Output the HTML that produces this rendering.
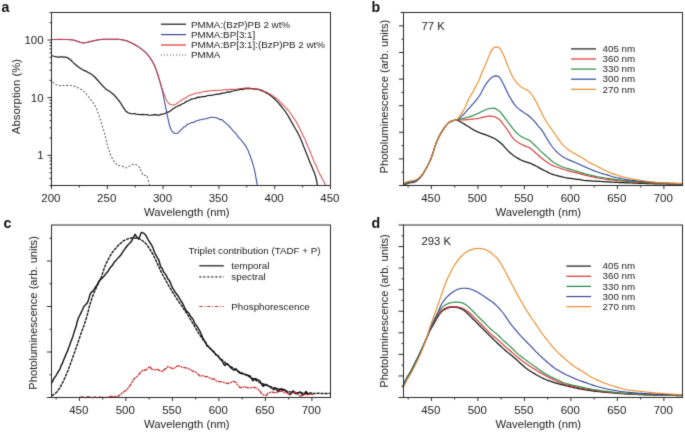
<!DOCTYPE html>
<html><head><meta charset="utf-8"><title>Figure</title>
<style>html,body{margin:0;padding:0;background:#fff;width:685px;height:432px;overflow:hidden}svg{display:block}text{font-family:"Liberation Sans",sans-serif}</style>
</head><body>
<svg width="685" height="432" viewBox="0 0 685 432" font-family="Liberation Sans, sans-serif"><defs><filter id="soft" filterUnits="userSpaceOnUse" x="0" y="0" width="685" height="432" color-interpolation-filters="sRGB"><feConvolveMatrix order="3" kernelMatrix="0.0144 0.0912 0.0144 0.0912 0.5776 0.0912 0.0144 0.0912 0.0144" edgeMode="duplicate"/></filter></defs><g filter="url(#soft)"><rect x="0" y="0" width="685" height="432" fill="#fff"/><path d="M51.50,55.54 L53.04,56.03 L55.00,56.47 L56.64,56.83 L58.30,57.03 L60.13,56.91 L62.00,56.88 L63.77,57.07 L65.60,57.14 L67.61,57.79 L69.70,59.12 L71.09,60.24 L72.50,61.84 L73.90,63.19 L75.30,64.48 L76.71,65.53 L78.10,66.73 L79.42,67.74 L80.73,68.53 L82.20,69.46 L83.96,70.34 L85.89,71.11 L87.80,72.26 L89.21,73.03 L90.64,73.81 L92.02,74.65 L93.30,75.79 L94.80,77.02 L96.15,78.48 L97.50,79.99 L98.90,81.53 L100.31,83.22 L101.70,84.67 L103.07,86.27 L104.43,87.61 L105.80,89.00 L107.19,90.01 L108.60,90.68 L110.00,91.61 L111.40,92.67 L112.81,93.95 L114.20,95.08 L115.66,96.76 L117.11,98.47 L118.30,100.00 L120.00,102.07 L120.93,103.51 L122.01,105.33 L123.10,107.02 L124.11,108.64 L125.12,110.15 L126.25,111.55 L128.13,112.75 L130.40,113.64 L132.34,113.76 L134.53,113.60 L136.70,114.25 L138.77,114.47 L140.83,114.55 L142.90,114.45 L145.00,114.76 L147.10,114.63 L149.20,115.23 L151.27,115.12 L153.33,114.92 L155.40,114.69 L157.50,115.15 L159.60,115.08 L161.70,114.11 L163.25,114.24 L164.80,113.51 L166.35,112.76 L167.90,112.16 L169.45,111.58 L171.00,110.57 L172.57,108.85 L174.20,108.18 L175.51,107.01 L176.80,106.76 L178.15,105.76 L179.61,105.39 L181.25,104.64 L182.57,103.64 L183.99,103.26 L185.50,102.03 L187.05,101.11 L188.63,100.74 L190.19,99.67 L191.70,99.19 L193.42,98.75 L195.14,98.38 L196.85,97.61 L198.56,97.12 L200.27,97.32 L202.00,96.57 L203.74,96.68 L205.49,96.34 L207.24,95.71 L208.99,95.52 L210.75,95.30 L212.50,95.10 L214.25,94.76 L216.01,94.43 L217.76,94.16 L219.51,94.06 L221.26,93.44 L223.00,93.05 L224.73,92.91 L226.44,92.23 L228.15,91.92 L229.86,92.03 L231.58,91.36 L233.30,91.03 L235.07,90.30 L236.89,90.21 L238.71,89.96 L240.49,89.22 L242.19,89.33 L243.75,89.09 L245.72,88.40 L247.38,88.57 L249.07,88.37 L251.10,88.54 L252.49,88.61 L254.00,88.87 L255.59,89.10 L257.25,89.22 L258.92,89.61 L260.58,90.24 L262.20,90.91 L263.59,91.35 L264.97,92.08 L266.36,92.86 L267.75,93.62 L269.14,94.53 L270.52,95.51 L271.91,96.60 L273.30,97.82 L274.42,98.77 L275.56,99.90 L276.72,101.17 L277.87,102.22 L279.02,103.64 L280.15,104.99 L281.27,106.23 L282.35,107.56 L283.40,109.04 L284.40,110.24 L285.36,111.56 L286.28,113.00 L287.17,114.46 L288.03,115.73 L288.86,117.21 L289.68,118.63 L290.48,120.17 L291.26,121.47 L292.03,122.95 L292.80,124.12 L293.74,125.78 L294.66,127.43 L295.55,129.02 L296.42,130.44 L297.27,131.91 L298.10,133.42 L298.91,135.09 L299.70,136.63 L300.38,138.26 L301.03,139.78 L301.67,141.16 L302.28,142.73 L302.89,144.43 L303.49,145.96 L304.09,147.56 L304.69,149.02 L305.30,150.51 L305.93,152.12 L306.57,153.85 L307.21,155.35 L307.86,157.00 L308.49,158.62 L309.11,160.18 L309.71,161.68 L310.27,163.21 L310.80,164.32 L311.67,166.33 L312.45,168.31 L313.16,169.88 L313.81,171.40 L314.40,172.78 L315.06,174.83 L315.62,176.68 L316.09,178.28 L316.50,180.06 L316.92,182.24 L317.21,184.18 L317.40,185.50" fill="none" stroke="#181818" stroke-width="1.2" stroke-linejoin="round" stroke-linecap="round" />
<path d="M51.50,39.57 L52.62,39.53 L54.18,39.50 L56.03,39.42 L58.02,39.37 L60.00,39.39 L61.72,39.45 L63.60,39.45 L65.54,39.47 L67.46,39.46 L69.24,39.58 L70.80,39.68 L73.20,40.07 L75.10,40.60 L77.00,41.17 L78.56,41.72 L80.12,42.26 L81.69,42.71 L83.30,42.93 L84.96,42.76 L86.67,42.42 L88.36,42.02 L90.00,41.62 L92.01,41.15 L93.95,40.66 L96.00,40.16 L97.61,39.95 L99.25,39.74 L101.02,39.54 L103.00,39.37 L104.53,39.34 L106.22,39.27 L108.00,39.34 L109.78,39.33 L111.47,39.30 L113.00,39.28 L114.98,39.32 L116.73,39.26 L118.37,39.32 L120.00,39.43 L121.62,39.63 L123.17,39.93 L124.71,40.34 L126.25,40.79 L127.81,41.33 L129.38,41.99 L130.94,42.76 L132.50,43.45 L134.06,44.26 L135.62,45.18 L137.19,46.07 L138.75,47.10 L140.34,48.18 L141.94,49.32 L143.51,50.62 L145.00,51.87 L146.12,53.02 L147.20,54.20 L148.24,55.49 L149.24,56.74 L150.20,58.09 L151.12,59.50 L152.00,60.87 L152.85,62.36 L153.65,63.90 L154.40,65.36 L155.10,66.94 L155.73,68.59 L156.33,70.32 L156.92,72.02 L157.50,73.72 L157.99,75.23 L158.47,76.74 L158.95,78.33 L159.41,79.86 L159.87,81.48 L160.30,83.04 L160.80,84.84 L161.27,86.57 L161.72,88.35 L162.16,90.06 L162.60,91.98 L162.96,93.72 L163.32,95.43 L163.67,97.18 L164.01,99.03 L164.36,100.77 L164.70,102.53 L165.04,104.19 L165.38,105.90 L165.72,107.62 L166.05,109.26 L166.38,110.91 L166.70,112.55 L167.07,114.31 L167.44,116.05 L167.80,117.77 L168.15,119.42 L168.50,121.03 L168.93,122.81 L169.34,124.51 L169.76,126.06 L170.20,127.55 L171.13,129.77 L172.20,131.47 L173.57,132.77 L175.00,133.56 L177.50,133.27 L178.57,132.46 L180.00,130.96 L181.12,129.45 L182.46,128.57 L183.92,126.96 L185.40,126.50 L186.86,124.61 L188.37,124.11 L189.96,123.53 L191.70,122.41 L193.26,122.44 L194.97,121.45 L196.73,120.78 L198.44,120.53 L200.00,119.74 L201.71,119.59 L203.25,118.90 L204.74,119.07 L206.25,118.63 L208.40,117.92 L210.55,117.22 L212.50,117.35 L214.77,117.49 L217.00,118.01 L218.39,118.47 L219.89,119.64 L221.45,119.58 L223.00,120.35 L224.23,122.06 L225.47,122.65 L226.71,124.13 L227.96,124.69 L229.20,126.40 L230.44,127.48 L231.68,129.06 L232.91,130.52 L234.15,131.80 L235.40,132.89 L236.46,134.23 L237.53,136.10 L238.61,137.34 L239.68,138.58 L240.71,139.21 L241.70,140.76 L242.83,142.32 L243.91,143.55 L244.94,145.13 L245.94,146.35 L246.90,148.15 L247.56,149.53 L248.20,150.55 L248.83,152.72 L249.43,154.31 L250.01,155.39 L250.57,157.03 L251.10,158.55 L251.69,160.25 L252.26,161.91 L252.79,163.71 L253.30,165.34 L253.77,167.12 L254.20,168.77 L254.59,170.39 L254.95,172.11 L255.27,173.84 L255.56,175.48 L255.84,177.06 L256.10,178.54 L256.48,180.58 L256.82,182.56 L257.10,184.35 L257.30,185.45" fill="none" stroke="#34479a" stroke-width="1.05" stroke-linejoin="round" stroke-linecap="round" />
<path d="M51.50,39.61 L52.62,39.59 L54.18,39.54 L56.03,39.50 L58.02,39.44 L60.00,39.44 L61.72,39.36 L63.60,39.42 L65.54,39.49 L67.46,39.51 L69.24,39.61 L70.80,39.66 L73.20,40.10 L75.10,40.62 L77.00,41.20 L78.56,41.69 L80.12,42.18 L81.69,42.65 L83.30,42.88 L84.96,42.83 L86.67,42.47 L88.36,41.97 L90.00,41.63 L92.01,41.08 L93.95,40.64 L96.00,40.16 L97.61,39.89 L99.25,39.76 L101.02,39.51 L103.00,39.37 L104.53,39.39 L106.22,39.34 L108.00,39.27 L109.78,39.34 L111.47,39.30 L113.00,39.32 L114.98,39.25 L116.73,39.30 L118.37,39.30 L120.00,39.45 L121.62,39.67 L123.17,39.92 L124.71,40.31 L126.25,40.77 L127.81,41.33 L129.38,41.97 L130.94,42.71 L132.50,43.51 L134.06,44.26 L135.62,45.19 L137.19,46.08 L138.75,47.08 L140.34,48.21 L141.94,49.34 L143.51,50.56 L145.00,51.90 L146.12,53.05 L147.20,54.18 L148.24,55.52 L149.24,56.72 L150.20,58.12 L151.12,59.51 L152.00,60.84 L152.85,62.38 L153.65,63.84 L154.40,65.41 L155.10,66.95 L155.75,68.62 L156.36,70.33 L156.94,72.11 L157.50,73.72 L158.04,75.45 L158.53,77.14 L159.01,78.81 L159.50,80.42 L160.00,82.09 L160.53,83.78 L161.07,85.50 L161.61,87.12 L162.16,88.83 L162.70,90.43 L163.37,92.38 L164.04,94.20 L164.71,96.09 L165.40,97.66 L166.32,99.69 L167.26,101.49 L168.30,102.94 L170.12,104.32 L172.10,105.04 L174.18,104.80 L176.25,103.89 L178.05,102.69 L180.00,101.11 L181.64,99.96 L183.47,98.84 L185.40,98.01 L186.82,97.35 L188.24,95.99 L189.82,95.10 L191.70,94.89 L193.18,94.15 L194.83,93.61 L196.59,93.08 L198.40,92.89 L200.23,92.65 L202.00,92.07 L203.74,91.73 L205.49,91.23 L207.24,91.48 L208.99,90.72 L210.75,90.78 L212.50,90.80 L214.25,90.23 L216.01,90.48 L217.76,90.53 L219.51,90.26 L221.26,90.27 L223.00,89.76 L224.73,89.84 L226.44,89.54 L228.15,89.83 L229.86,89.36 L231.58,89.31 L233.30,89.50 L235.06,89.26 L236.85,89.16 L238.65,88.67 L240.42,88.52 L242.13,88.53 L243.75,88.29 L245.51,88.10 L247.11,88.12 L248.67,87.96 L250.26,88.17 L252.00,88.69 L253.58,88.86 L255.22,88.86 L256.92,89.04 L258.66,89.28 L260.43,89.58 L262.20,90.26 L263.74,91.16 L265.31,91.88 L266.89,92.32 L268.50,93.40 L270.10,94.30 L271.71,95.24 L273.30,96.30 L274.54,97.26 L275.79,97.99 L277.05,99.22 L278.30,100.04 L279.56,101.29 L280.80,102.62 L282.02,103.76 L283.22,104.74 L284.40,106.37 L285.56,107.46 L286.72,108.75 L287.87,109.78 L289.00,111.51 L290.11,112.75 L291.20,114.44 L292.24,115.75 L293.25,117.39 L294.20,118.69 L295.20,120.32 L296.13,121.57 L297.00,123.25 L297.83,124.82 L298.64,126.40 L299.44,127.69 L300.26,129.81 L301.10,131.54 L301.80,132.75 L302.50,134.57 L303.21,136.08 L303.92,137.11 L304.63,138.70 L305.33,139.85 L306.03,142.23 L306.70,143.91 L307.36,144.89 L308.00,146.63 L308.68,148.28 L309.33,149.89 L309.96,150.80 L310.58,153.09 L311.18,154.39 L311.78,156.02 L312.38,157.24 L312.98,158.97 L313.60,160.63 L314.31,162.12 L315.04,163.89 L315.77,164.71 L316.49,166.49 L317.21,168.41 L317.91,170.18 L318.57,171.11 L319.20,173.02 L320.14,174.95 L321.03,176.06 L321.86,178.23 L322.62,179.43 L323.30,180.56 L324.29,182.58 L325.07,184.28 L325.60,185.12" fill="none" stroke="#d93030" stroke-width="1.05" stroke-linejoin="round" stroke-linecap="round" stroke-opacity="0.85"/>
<path d="M52.90,82.50 C53.42,82.85 54.82,84.08 56.00,84.60 C57.18,85.12 58.33,85.47 60.00,85.60 C61.67,85.73 64.00,85.40 66.00,85.40 C68.00,85.40 70.23,85.30 72.00,85.60 C73.77,85.90 75.27,86.63 76.60,87.20 C77.93,87.77 78.83,88.33 80.00,89.00 C81.17,89.67 82.23,89.97 83.60,91.20 C84.97,92.43 86.77,94.67 88.20,96.40 C89.63,98.13 90.95,99.87 92.20,101.60 C93.45,103.33 94.82,105.17 95.70,106.80 C96.58,108.43 96.90,109.80 97.50,111.40 C98.10,113.00 98.72,114.70 99.30,116.40 C99.88,118.10 100.43,119.77 101.00,121.60 C101.57,123.43 102.12,125.48 102.70,127.40 C103.28,129.32 104.02,131.37 104.50,133.10 C104.98,134.83 105.22,136.25 105.60,137.80 C105.98,139.35 106.42,140.87 106.80,142.40 C107.18,143.93 107.48,145.57 107.90,147.00 C108.32,148.43 108.82,149.60 109.30,151.00 C109.78,152.40 110.17,153.90 110.80,155.40 C111.43,156.90 112.33,158.75 113.10,160.00 C113.87,161.25 114.63,162.03 115.40,162.90 C116.17,163.77 116.53,164.65 117.70,165.20 C118.87,165.75 120.95,165.77 122.40,166.20 C123.85,166.63 125.25,167.80 126.40,167.80 C127.55,167.80 128.23,166.77 129.30,166.20 C130.37,165.63 131.73,164.70 132.80,164.40 C133.87,164.10 134.73,164.07 135.70,164.40 C136.67,164.73 137.83,165.58 138.60,166.40 C139.37,167.22 139.82,168.43 140.30,169.30 C140.78,170.17 141.02,170.60 141.50,171.60 C141.98,172.60 142.63,174.68 143.20,175.30 C143.77,175.92 144.32,175.20 144.90,175.30 C145.48,175.40 146.22,175.35 146.70,175.90 C147.18,176.45 147.42,177.42 147.80,178.60 C148.18,179.78 148.72,182.02 149.00,183.00 C149.28,183.98 149.42,184.25 149.50,184.50" fill="none" stroke="#555" stroke-width="1.05" stroke-linejoin="round" stroke-linecap="round" stroke-dasharray="1.05 2.6" stroke-linecap="butt"/>
<rect x="51.5" y="12.5" width="279.0" height="173.0" fill="none" stroke="#2a2a2a" stroke-width="1"/>
<line x1="51.5" y1="185.5" x2="51.5" y2="189.0" stroke="#2a2a2a" stroke-width="1" />
<text x="50.9" y="202.2" font-size="11.5" text-anchor="middle" fill="#222" font-weight="normal" >200</text>
<line x1="79.4" y1="185.5" x2="79.4" y2="187.5" stroke="#2a2a2a" stroke-width="1" />
<line x1="107.3" y1="185.5" x2="107.3" y2="189.0" stroke="#2a2a2a" stroke-width="1" />
<text x="106.7" y="202.2" font-size="11.5" text-anchor="middle" fill="#222" font-weight="normal" >250</text>
<line x1="135.2" y1="185.5" x2="135.2" y2="187.5" stroke="#2a2a2a" stroke-width="1" />
<line x1="163.1" y1="185.5" x2="163.1" y2="189.0" stroke="#2a2a2a" stroke-width="1" />
<text x="162.5" y="202.2" font-size="11.5" text-anchor="middle" fill="#222" font-weight="normal" >300</text>
<line x1="191.0" y1="185.5" x2="191.0" y2="187.5" stroke="#2a2a2a" stroke-width="1" />
<line x1="218.9" y1="185.5" x2="218.9" y2="189.0" stroke="#2a2a2a" stroke-width="1" />
<text x="218.3" y="202.2" font-size="11.5" text-anchor="middle" fill="#222" font-weight="normal" >350</text>
<line x1="246.8" y1="185.5" x2="246.8" y2="187.5" stroke="#2a2a2a" stroke-width="1" />
<line x1="274.7" y1="185.5" x2="274.7" y2="189.0" stroke="#2a2a2a" stroke-width="1" />
<text x="274.09999999999997" y="202.2" font-size="11.5" text-anchor="middle" fill="#222" font-weight="normal" >400</text>
<line x1="302.6" y1="185.5" x2="302.6" y2="187.5" stroke="#2a2a2a" stroke-width="1" />
<line x1="330.5" y1="185.5" x2="330.5" y2="189.0" stroke="#2a2a2a" stroke-width="1" />
<text x="329.9" y="202.2" font-size="11.5" text-anchor="middle" fill="#222" font-weight="normal" >450</text>
<line x1="49.5" y1="185.5" x2="51.5" y2="185.5" stroke="#2a2a2a" stroke-width="1" />
<line x1="49.5" y1="178.2951995222547" x2="51.5" y2="178.2951995222547" stroke="#2a2a2a" stroke-width="1" />
<line x1="49.5" y1="172.70672210545678" x2="51.5" y2="172.70672210545678" stroke="#2a2a2a" stroke-width="1" />
<line x1="49.5" y1="168.14060358337707" x2="51.5" y2="168.14060358337707" stroke="#2a2a2a" stroke-width="1" />
<line x1="49.5" y1="164.28000538134506" x2="51.5" y2="164.28000538134506" stroke="#2a2a2a" stroke-width="1" />
<line x1="49.5" y1="160.93580310563178" x2="51.5" y2="160.93580310563178" stroke="#2a2a2a" stroke-width="1" />
<line x1="49.5" y1="157.98600764449947" x2="51.5" y2="157.98600764449947" stroke="#2a2a2a" stroke-width="1" />
<line x1="47.5" y1="155.34732568883385" x2="51.5" y2="155.34732568883385" stroke="#2a2a2a" stroke-width="1" />
<line x1="49.5" y1="137.98792927221095" x2="51.5" y2="137.98792927221095" stroke="#2a2a2a" stroke-width="1" />
<line x1="49.5" y1="127.83333333333334" x2="51.5" y2="127.83333333333334" stroke="#2a2a2a" stroke-width="1" />
<line x1="49.5" y1="120.62853285558803" x2="51.5" y2="120.62853285558803" stroke="#2a2a2a" stroke-width="1" />
<line x1="49.5" y1="115.0400554387901" x2="51.5" y2="115.0400554387901" stroke="#2a2a2a" stroke-width="1" />
<line x1="49.5" y1="110.47393691671041" x2="51.5" y2="110.47393691671041" stroke="#2a2a2a" stroke-width="1" />
<line x1="49.5" y1="106.61333871467839" x2="51.5" y2="106.61333871467839" stroke="#2a2a2a" stroke-width="1" />
<line x1="49.5" y1="103.26913643896512" x2="51.5" y2="103.26913643896512" stroke="#2a2a2a" stroke-width="1" />
<line x1="49.5" y1="100.3193409778328" x2="51.5" y2="100.3193409778328" stroke="#2a2a2a" stroke-width="1" />
<line x1="47.5" y1="97.6806590221672" x2="51.5" y2="97.6806590221672" stroke="#2a2a2a" stroke-width="1" />
<line x1="49.5" y1="80.32126260554428" x2="51.5" y2="80.32126260554428" stroke="#2a2a2a" stroke-width="1" />
<line x1="49.5" y1="70.16666666666667" x2="51.5" y2="70.16666666666667" stroke="#2a2a2a" stroke-width="1" />
<line x1="49.5" y1="62.96186618892136" x2="51.5" y2="62.96186618892136" stroke="#2a2a2a" stroke-width="1" />
<line x1="49.5" y1="57.37338877212346" x2="51.5" y2="57.37338877212346" stroke="#2a2a2a" stroke-width="1" />
<line x1="49.5" y1="52.80727025004376" x2="51.5" y2="52.80727025004376" stroke="#2a2a2a" stroke-width="1" />
<line x1="49.5" y1="48.94667204801172" x2="51.5" y2="48.94667204801172" stroke="#2a2a2a" stroke-width="1" />
<line x1="49.5" y1="45.60246977229846" x2="51.5" y2="45.60246977229846" stroke="#2a2a2a" stroke-width="1" />
<line x1="49.5" y1="42.65267431116612" x2="51.5" y2="42.65267431116612" stroke="#2a2a2a" stroke-width="1" />
<line x1="47.5" y1="40.01399235550056" x2="51.5" y2="40.01399235550056" stroke="#2a2a2a" stroke-width="1" />
<line x1="49.5" y1="22.654595938877634" x2="51.5" y2="22.654595938877634" stroke="#2a2a2a" stroke-width="1" />
<line x1="49.5" y1="12.5" x2="51.5" y2="12.5" stroke="#2a2a2a" stroke-width="1" />
<text x="43.6" y="159.44732568883384" font-size="11.5" text-anchor="end" fill="#222" font-weight="normal" >1</text>
<text x="43.6" y="101.7806590221672" font-size="11.5" text-anchor="end" fill="#222" font-weight="normal" >10</text>
<text x="43.6" y="44.113992355500564" font-size="11.5" text-anchor="end" fill="#222" font-weight="normal" >100</text>
<text x="20" y="96.5" font-size="11.4" text-anchor="middle" fill="#222" font-weight="normal" transform="rotate(-90 20 96.5)">Absorption (%)</text>
<text x="144" y="216" font-size="11.3" text-anchor="start" fill="#222" font-weight="normal" >Wavelength (nm)</text>
<text x="1.5" y="12" font-size="14.2" text-anchor="start" fill="#111" font-weight="bold" >a</text>
<line x1="161" y1="24.2" x2="186" y2="24.2" stroke="#181818" stroke-width="1.2" />
<text x="191" y="27.599999999999998" font-size="9.8" text-anchor="start" fill="#222" font-weight="normal" >PMMA:(BzP)PB 2 wt%</text>
<line x1="161" y1="34.6" x2="186" y2="34.6" stroke="#34479a" stroke-width="1.2" />
<text x="191" y="38.0" font-size="9.8" text-anchor="start" fill="#222" font-weight="normal" >PMMA:BP[3:1]</text>
<line x1="161" y1="45.0" x2="186" y2="45.0" stroke="#d93030" stroke-width="1.2" />
<text x="191" y="48.4" font-size="9.8" text-anchor="start" fill="#222" font-weight="normal" >PMMA:BP[3:1]:(BzP)PB 2 wt%</text>
<line x1="161" y1="55.0" x2="186" y2="55.0" stroke="#555" stroke-width="1.2" stroke-dasharray="1 2"/>
<text x="191" y="58.4" font-size="9.8" text-anchor="start" fill="#222" font-weight="normal" >PMMA</text>
<path d="M403.50,185.50 L404.97,184.69 L406.35,184.01 L407.89,183.39 L409.39,182.96 L410.89,182.70 L412.37,182.54 L413.83,182.25 L415.23,181.68 L416.59,180.86 L417.89,179.88 L419.03,178.84 L420.09,177.70 L421.14,176.44 L422.12,175.13 L422.99,173.85 L423.80,172.55 L424.61,171.19 L425.39,169.81 L426.15,168.44 L426.90,167.07 L427.64,165.69 L428.35,164.31 L429.03,162.93 L429.69,161.54 L430.32,160.11 L430.94,158.64 L431.52,157.16 L432.07,155.68 L432.59,154.19 L433.08,152.67 L433.54,151.13 L433.97,149.61 L434.42,148.13 L434.91,146.62 L435.47,145.09 L436.04,143.61 L436.62,142.16 L437.21,140.69 L437.82,139.22 L438.46,137.78 L439.15,136.36 L439.88,134.99 L440.66,133.64 L441.47,132.30 L442.32,130.92 L443.22,129.54 L444.11,128.22 L445.00,126.95 L445.90,125.74 L446.88,124.56 L448.01,123.38 L449.29,122.30 L450.69,121.45 L452.18,120.84 L453.65,120.39 L455.11,120.13 L456.57,120.20 L457.96,120.61 L459.34,121.25 L460.76,122.00 L462.16,122.78 L463.48,123.56 L464.78,124.35 L466.08,125.16 L467.39,125.99 L468.73,126.84 L470.09,127.72 L471.46,128.59 L472.84,129.42 L474.23,130.19 L475.63,130.90 L477.04,131.57 L478.45,132.19 L479.91,132.79 L481.40,133.34 L482.90,133.87 L484.40,134.40 L485.92,134.95 L487.45,135.51 L488.97,136.09 L490.46,136.71 L491.91,137.35 L493.34,138.02 L494.73,138.74 L496.12,139.56 L497.52,140.51 L498.83,141.49 L500.06,142.44 L501.24,143.43 L502.37,144.53 L503.40,145.65 L504.45,146.86 L505.56,148.15 L506.70,149.41 L507.83,150.60 L508.99,151.73 L510.16,152.81 L511.33,153.82 L512.52,154.78 L513.75,155.70 L515.02,156.58 L516.32,157.41 L517.61,158.17 L518.93,158.90 L520.28,159.59 L521.65,160.24 L523.03,160.84 L524.44,161.39 L525.93,161.90 L527.45,162.37 L528.97,162.86 L530.45,163.40 L531.87,164.00 L533.27,164.65 L534.67,165.34 L536.06,166.06 L537.44,166.82 L538.81,167.60 L540.18,168.38 L541.57,169.14 L542.96,169.86 L544.37,170.56 L545.77,171.25 L547.16,171.92 L548.54,172.58 L549.91,173.22 L551.29,173.82 L552.73,174.36 L554.24,174.84 L555.76,175.26 L557.29,175.67 L558.80,176.07 L560.30,176.47 L561.80,176.84 L563.31,177.19 L564.83,177.50 L566.36,177.78 L567.88,178.03 L569.40,178.26 L570.90,178.47 L572.40,178.65 L573.90,178.84 L575.42,179.04 L576.94,179.26 L578.46,179.48 L579.93,179.70 L581.27,179.92 L582.60,180.13 L584.18,180.34 L585.80,180.51 L587.18,180.62 L588.53,180.72 L589.98,180.81 L591.53,180.91 L593.13,181.01 L594.76,181.11 L596.40,181.21 L598.01,181.30 L599.57,181.40 L601.09,181.50 L602.58,181.59 L604.09,181.69 L605.60,181.79 L607.12,181.88 L608.64,181.98 L610.16,182.07 L611.67,182.16 L613.19,182.25 L614.70,182.32 L616.20,182.40 L617.69,182.46 L619.17,182.53 L620.66,182.59 L622.15,182.65 L623.65,182.70 L625.17,182.76 L626.71,182.82 L628.26,182.88 L629.77,182.94 L631.26,183.00 L632.77,183.05 L634.30,183.11 L635.84,183.17 L637.39,183.23 L638.94,183.29 L640.48,183.35 L642.01,183.40 L643.52,183.45 L645.01,183.50 L646.50,183.55 L647.95,183.59 L649.36,183.64 L650.75,183.68 L652.15,183.72 L653.57,183.76 L655.05,183.79 L656.60,183.83 L658.24,183.86 L659.86,183.90 L661.36,183.92 L662.86,183.95 L664.44,183.97 L666.11,184.00 L667.83,184.02 L669.59,184.04 L671.35,184.07 L673.08,184.09 L674.75,184.11 L676.35,184.13 L677.84,184.15 L679.19,184.16 L680.36,184.18 L681.21,184.19 L682.00,184.20" fill="none" stroke="#181818" stroke-width="1.25" stroke-linejoin="round" stroke-linecap="round" />
<path d="M403.50,185.10 L404.97,184.29 L406.35,183.61 L407.89,182.99 L409.39,182.56 L410.89,182.31 L412.37,182.16 L413.83,181.88 L415.23,181.34 L416.59,180.57 L417.89,179.63 L419.03,178.62 L420.09,177.52 L421.14,176.29 L422.12,175.01 L422.99,173.76 L423.80,172.48 L424.61,171.15 L425.39,169.79 L426.15,168.44 L426.90,167.07 L427.64,165.70 L428.35,164.32 L429.03,162.94 L429.69,161.54 L430.32,160.11 L430.94,158.64 L431.52,157.16 L432.07,155.68 L432.59,154.19 L433.08,152.67 L433.54,151.13 L433.97,149.61 L434.42,148.13 L434.91,146.62 L435.47,145.09 L436.04,143.61 L436.62,142.16 L437.21,140.69 L437.82,139.22 L438.46,137.78 L439.15,136.36 L439.88,134.99 L440.66,133.64 L441.47,132.30 L442.32,130.92 L443.22,129.54 L444.11,128.22 L445.00,126.95 L445.90,125.74 L446.88,124.56 L448.01,123.38 L449.29,122.30 L450.69,121.46 L452.18,120.85 L453.65,120.45 L455.11,120.23 L456.58,120.12 L458.00,120.08 L459.45,120.06 L461.02,120.03 L462.60,119.97 L464.13,119.87 L465.70,119.75 L467.33,119.61 L468.98,119.46 L470.59,119.30 L472.19,119.14 L473.78,118.98 L475.36,118.80 L476.91,118.60 L478.43,118.36 L479.97,118.04 L481.50,117.65 L482.99,117.23 L484.43,116.84 L485.89,116.52 L487.44,116.28 L488.99,116.14 L490.49,116.10 L492.00,116.22 L493.55,116.52 L495.06,117.03 L496.50,117.70 L497.90,118.52 L499.19,119.41 L500.28,120.35 L501.19,121.40 L502.08,122.61 L502.96,123.80 L503.85,124.99 L504.81,126.28 L505.81,127.64 L506.82,129.02 L507.77,130.39 L508.67,131.74 L509.54,133.13 L510.41,134.54 L511.27,135.92 L512.14,137.21 L513.08,138.42 L514.20,139.58 L515.45,140.65 L516.75,141.56 L518.05,142.38 L519.38,143.17 L520.74,143.93 L522.11,144.62 L523.48,145.27 L524.87,145.87 L526.26,146.40 L527.66,146.92 L529.05,147.54 L530.37,148.32 L531.60,149.25 L532.81,150.31 L534.01,151.42 L535.20,152.53 L536.39,153.61 L537.57,154.68 L538.74,155.75 L539.92,156.79 L541.13,157.81 L542.39,158.80 L543.68,159.77 L544.98,160.70 L546.27,161.60 L547.55,162.48 L548.82,163.34 L550.08,164.16 L551.37,164.92 L552.75,165.62 L554.24,166.25 L555.76,166.81 L557.29,167.33 L558.80,167.84 L560.30,168.34 L561.80,168.82 L563.31,169.30 L564.83,169.78 L566.36,170.25 L567.88,170.70 L569.40,171.13 L570.90,171.53 L572.40,171.91 L573.90,172.28 L575.42,172.64 L576.94,173.01 L578.46,173.37 L579.93,173.75 L581.27,174.12 L582.60,174.51 L584.18,174.94 L585.80,175.34 L587.18,175.67 L588.53,175.98 L589.98,176.31 L591.53,176.66 L593.13,177.01 L594.76,177.35 L596.40,177.69 L598.01,178.00 L599.57,178.29 L601.09,178.55 L602.58,178.79 L604.09,179.02 L605.60,179.24 L607.12,179.44 L608.64,179.64 L610.16,179.83 L611.67,180.01 L613.19,180.19 L614.70,180.35 L616.20,180.50 L617.69,180.64 L619.17,180.77 L620.66,180.89 L622.15,181.00 L623.65,181.11 L625.17,181.22 L626.71,181.34 L628.26,181.46 L629.77,181.58 L631.26,181.71 L632.77,181.83 L634.30,181.96 L635.84,182.09 L637.39,182.22 L638.94,182.35 L640.48,182.47 L642.01,182.59 L643.52,182.70 L645.01,182.80 L646.50,182.89 L647.95,182.98 L649.36,183.06 L650.75,183.13 L652.15,183.19 L653.57,183.26 L655.05,183.32 L656.60,183.38 L658.24,183.44 L659.86,183.49 L661.36,183.54 L662.86,183.59 L664.44,183.64 L666.11,183.69 L667.83,183.73 L669.59,183.78 L671.35,183.83 L673.08,183.87 L674.75,183.92 L676.35,183.96 L677.84,183.99 L679.19,184.03 L680.36,184.06 L681.21,184.08 L682.00,184.10" fill="none" stroke="#d93030" stroke-width="1.12" stroke-linejoin="round" stroke-linecap="round" />
<path d="M403.50,184.90 L404.97,184.09 L406.35,183.41 L407.89,182.79 L409.39,182.36 L410.89,182.11 L412.37,181.96 L413.83,181.69 L415.23,181.17 L416.59,180.42 L417.89,179.51 L419.03,178.51 L420.09,177.43 L421.14,176.22 L422.12,174.96 L422.99,173.72 L423.80,172.45 L424.61,171.13 L425.39,169.78 L426.15,168.43 L426.90,167.08 L427.64,165.70 L428.35,164.32 L429.03,162.94 L429.69,161.54 L430.32,160.11 L430.94,158.64 L431.52,157.16 L432.07,155.68 L432.59,154.19 L433.08,152.67 L433.54,151.13 L433.97,149.61 L434.42,148.13 L434.91,146.62 L435.47,145.09 L436.04,143.61 L436.62,142.16 L437.21,140.69 L437.82,139.22 L438.46,137.78 L439.15,136.36 L439.88,134.99 L440.66,133.64 L441.47,132.30 L442.32,130.92 L443.22,129.54 L444.11,128.22 L445.00,126.95 L445.90,125.74 L446.88,124.56 L448.01,123.38 L449.29,122.30 L450.69,121.46 L452.18,120.86 L453.65,120.48 L455.11,120.28 L456.58,120.07 L458.00,119.76 L459.45,119.37 L461.01,118.93 L462.56,118.52 L464.01,118.18 L465.48,117.84 L467.01,117.48 L468.56,117.09 L470.07,116.65 L471.53,116.15 L472.95,115.61 L474.37,115.03 L475.77,114.42 L477.14,113.80 L478.50,113.18 L479.90,112.51 L481.34,111.79 L482.73,111.06 L484.08,110.39 L485.44,109.78 L486.93,109.23 L488.48,108.77 L489.99,108.44 L491.49,108.23 L493.04,108.18 L494.56,108.38 L496.02,108.89 L497.40,109.68 L498.74,110.66 L499.96,111.74 L501.05,112.92 L502.03,114.17 L502.97,115.44 L503.88,116.65 L504.79,117.86 L505.73,119.11 L506.64,120.33 L507.51,121.49 L508.38,122.67 L509.30,123.89 L510.25,125.14 L511.19,126.38 L512.13,127.63 L513.10,128.92 L514.10,130.19 L515.11,131.39 L516.16,132.51 L517.31,133.57 L518.50,134.53 L519.70,135.40 L520.92,136.20 L522.23,136.98 L523.64,137.73 L525.07,138.42 L526.42,139.03 L527.73,139.61 L529.01,140.24 L530.22,141.04 L531.33,141.96 L532.45,142.99 L533.64,144.11 L534.82,145.25 L535.96,146.36 L537.07,147.47 L538.17,148.58 L539.26,149.69 L540.37,150.79 L541.51,151.87 L542.70,152.94 L543.90,153.99 L545.10,155.02 L546.30,156.06 L547.49,157.12 L548.67,158.19 L549.84,159.26 L551.02,160.28 L552.23,161.24 L553.49,162.14 L554.78,162.97 L556.08,163.74 L557.39,164.47 L558.73,165.17 L560.09,165.83 L561.47,166.45 L562.87,167.01 L564.33,167.54 L565.85,168.02 L567.37,168.46 L568.89,168.91 L570.40,169.37 L571.90,169.84 L573.40,170.30 L574.91,170.73 L576.43,171.14 L577.96,171.54 L579.46,171.96 L580.84,172.41 L582.14,172.88 L583.62,173.40 L585.28,173.90 L586.74,174.28 L588.07,174.61 L589.49,174.94 L591.00,175.29 L592.59,175.65 L594.22,176.01 L595.86,176.35 L597.48,176.69 L599.06,176.99 L600.59,177.27 L602.08,177.53 L603.59,177.78 L605.10,178.01 L606.61,178.24 L608.13,178.45 L609.65,178.67 L611.17,178.88 L612.69,179.09 L614.20,179.30 L615.71,179.51 L617.22,179.73 L618.73,179.94 L620.24,180.15 L621.75,180.36 L623.26,180.56 L624.77,180.75 L626.28,180.93 L627.79,181.09 L629.30,181.24 L630.79,181.38 L632.28,181.50 L633.76,181.60 L635.24,181.70 L636.72,181.79 L638.22,181.88 L639.75,181.97 L641.29,182.07 L642.84,182.16 L644.33,182.27 L645.75,182.37 L647.17,182.47 L648.59,182.57 L650.03,182.68 L651.49,182.79 L652.99,182.89 L654.52,182.99 L656.11,183.09 L657.74,183.18 L659.37,183.27 L660.91,183.34 L662.42,183.40 L664.00,183.46 L665.65,183.52 L667.37,183.58 L669.12,183.63 L670.87,183.68 L672.60,183.73 L674.28,183.78 L675.89,183.83 L677.40,183.87 L678.79,183.91 L680.01,183.94 L680.98,183.97 L682.00,184.00 L682.00,184.00" fill="none" stroke="#268a42" stroke-width="1.12" stroke-linejoin="round" stroke-linecap="round" />
<path d="M403.50,184.60 L404.97,183.79 L406.35,183.11 L407.89,182.49 L409.39,182.06 L410.89,181.81 L412.37,181.67 L413.83,181.42 L415.23,180.92 L416.59,180.21 L417.89,179.32 L419.03,178.35 L420.09,177.29 L421.14,176.11 L422.14,174.84 L423.05,173.56 L423.91,172.23 L424.76,170.83 L425.59,169.41 L426.39,168.01 L427.15,166.63 L427.88,165.25 L428.58,163.86 L429.25,162.48 L429.90,161.07 L430.53,159.62 L431.13,158.15 L431.70,156.67 L432.24,155.19 L432.76,153.69 L433.23,152.16 L433.68,150.62 L434.12,149.11 L434.58,147.63 L435.09,146.11 L435.66,144.59 L436.23,143.12 L436.81,141.67 L437.41,140.20 L438.02,138.74 L438.68,137.30 L439.39,135.90 L440.14,134.53 L440.93,133.19 L441.75,131.84 L442.62,130.46 L443.52,129.10 L444.41,127.79 L445.30,126.54 L446.21,125.35 L447.24,124.16 L448.43,123.00 L449.74,121.99 L451.18,121.23 L452.67,120.73 L454.14,120.49 L455.59,120.30 L456.99,119.83 L458.27,119.06 L459.55,118.09 L460.87,116.99 L462.11,115.85 L463.21,114.76 L464.24,113.66 L465.26,112.50 L466.32,111.29 L467.40,110.06 L468.44,108.89 L469.48,107.76 L470.53,106.61 L471.61,105.43 L472.67,104.24 L473.71,103.06 L474.72,101.86 L475.75,100.60 L476.78,99.31 L477.77,98.01 L478.70,96.77 L479.55,95.57 L480.35,94.35 L481.09,93.03 L481.71,91.74 L482.29,90.47 L482.95,89.19 L483.67,87.91 L484.43,86.59 L485.25,85.27 L486.11,83.95 L487.02,82.62 L487.98,81.30 L488.98,80.05 L490.09,78.90 L491.36,77.83 L492.72,76.90 L494.11,76.21 L495.63,75.90 L497.24,76.09 L498.65,76.67 L499.75,77.63 L500.55,78.79 L501.24,80.02 L501.96,81.39 L502.71,82.86 L503.47,84.35 L504.19,85.79 L504.89,87.20 L505.57,88.61 L506.25,90.04 L506.93,91.46 L507.62,92.85 L508.33,94.24 L509.09,95.66 L509.87,97.08 L510.66,98.47 L511.45,99.80 L512.25,101.10 L513.08,102.38 L513.92,103.64 L514.78,104.83 L515.70,105.97 L516.72,107.07 L517.84,108.11 L519.05,109.09 L520.32,110.05 L521.61,110.98 L522.90,111.89 L524.18,112.77 L525.46,113.62 L526.74,114.46 L527.99,115.32 L529.21,116.24 L530.39,117.25 L531.55,118.31 L532.65,119.40 L533.71,120.52 L534.75,121.68 L535.75,122.91 L536.71,124.17 L537.63,125.37 L538.58,126.52 L539.59,127.58 L540.63,128.66 L541.64,129.86 L542.47,131.07 L543.22,132.30 L543.99,133.63 L544.79,135.03 L545.60,136.45 L546.42,137.83 L547.23,139.15 L548.04,140.45 L548.86,141.76 L549.69,143.05 L550.52,144.32 L551.37,145.54 L552.27,146.76 L553.25,148.01 L554.30,149.25 L555.35,150.42 L556.41,151.52 L557.49,152.58 L558.67,153.65 L559.92,154.69 L561.18,155.65 L562.46,156.54 L563.79,157.36 L565.17,158.13 L566.57,158.83 L567.98,159.48 L569.42,160.12 L570.90,160.76 L572.40,161.37 L573.88,161.99 L575.32,162.61 L576.73,163.23 L578.13,163.86 L579.53,164.49 L580.91,165.11 L582.28,165.72 L583.67,166.34 L585.09,166.97 L586.50,167.60 L587.90,168.22 L589.34,168.86 L590.81,169.48 L592.28,170.08 L593.73,170.64 L595.18,171.18 L596.65,171.70 L598.13,172.20 L599.60,172.69 L601.06,173.16 L602.52,173.60 L603.98,174.04 L605.44,174.47 L606.90,174.91 L608.36,175.35 L609.82,175.81 L611.28,176.26 L612.74,176.69 L614.23,177.09 L615.77,177.46 L617.33,177.79 L618.89,178.10 L620.45,178.40 L621.95,178.70 L623.36,179.00 L624.75,179.30 L626.28,179.60 L627.98,179.87 L629.54,180.09 L630.92,180.26 L632.33,180.42 L633.83,180.58 L635.39,180.74 L637.00,180.89 L638.62,181.05 L640.25,181.21 L641.84,181.35 L643.38,181.50 L644.84,181.64 L646.25,181.77 L647.62,181.90 L648.98,182.03 L650.36,182.15 L651.80,182.27 L653.33,182.39 L654.97,182.51 L656.70,182.62 L658.32,182.72 L659.78,182.79 L661.25,182.87 L662.83,182.94 L664.48,183.01 L666.20,183.08 L667.96,183.16 L669.73,183.23 L671.49,183.30 L673.21,183.36 L674.86,183.43 L676.44,183.49 L677.90,183.54 L679.23,183.59 L680.38,183.64 L681.21,183.67 L682.00,183.70" fill="none" stroke="#34479a" stroke-width="1.12" stroke-linejoin="round" stroke-linecap="round" />
<path d="M403.30,183.60 L404.77,182.79 L406.15,182.11 L407.69,181.49 L409.19,181.06 L410.69,180.82 L412.17,180.70 L413.64,180.50 L415.06,180.09 L416.45,179.47 L417.79,178.67 L419.03,177.72 L420.20,176.64 L421.34,175.42 L422.38,174.16 L423.29,172.92 L424.17,171.63 L425.03,170.28 L425.86,168.91 L426.65,167.55 L427.40,166.18 L428.12,164.80 L428.81,163.41 L429.47,162.02 L430.11,160.59 L430.74,159.13 L431.33,157.66 L431.89,156.18 L432.42,154.69 L432.92,153.18 L433.39,151.65 L433.83,150.12 L434.27,148.62 L434.74,147.13 L435.28,145.60 L435.85,144.10 L436.42,142.64 L437.01,141.18 L437.61,139.71 L438.24,138.25 L438.91,136.83 L439.63,135.44 L440.40,134.08 L441.19,132.74 L442.03,131.38 L442.92,130.00 L443.82,128.66 L444.71,127.37 L445.60,126.14 L446.54,124.96 L447.62,123.77 L448.85,122.64 L450.21,121.71 L451.68,121.04 L453.18,120.64 L454.67,120.49 L456.07,120.19 L457.21,119.46 L458.15,118.38 L459.05,117.09 L459.94,115.73 L460.80,114.41 L461.66,113.14 L462.48,111.90 L463.28,110.64 L464.04,109.32 L464.76,107.92 L465.44,106.43 L466.08,104.92 L466.70,103.44 L467.34,101.99 L468.00,100.57 L468.64,99.21 L469.30,97.91 L470.00,96.66 L470.74,95.42 L471.54,94.09 L472.31,92.76 L473.04,91.44 L473.81,90.06 L474.59,88.61 L475.36,87.18 L476.11,85.77 L476.86,84.36 L477.61,82.95 L478.32,81.57 L478.98,80.21 L479.60,78.81 L480.18,77.31 L480.69,75.79 L481.19,74.29 L481.72,72.83 L482.33,71.44 L482.98,70.08 L483.66,68.67 L484.34,67.21 L484.95,65.79 L485.54,64.35 L486.14,62.86 L486.75,61.35 L487.34,59.88 L487.93,58.42 L488.55,56.89 L489.18,55.35 L489.77,53.91 L490.37,52.55 L491.07,51.13 L491.92,49.73 L492.93,48.54 L494.20,47.61 L495.71,47.10 L497.36,47.11 L498.87,47.59 L500.00,48.53 L500.77,49.69 L501.46,50.99 L502.20,52.46 L502.96,54.02 L503.70,55.61 L504.36,57.10 L504.95,58.50 L505.51,59.91 L506.06,61.35 L506.62,62.82 L507.18,64.27 L507.74,65.71 L508.32,67.13 L508.93,68.60 L509.55,70.09 L510.18,71.56 L510.82,73.00 L511.45,74.37 L512.10,75.70 L512.84,77.08 L513.67,78.50 L514.54,79.85 L515.44,81.11 L516.39,82.30 L517.41,83.47 L518.50,84.59 L519.62,85.65 L520.78,86.62 L522.00,87.49 L523.36,88.26 L524.79,88.91 L526.18,89.55 L527.48,90.31 L528.66,91.18 L529.78,92.18 L530.83,93.31 L531.78,94.50 L532.63,95.72 L533.46,97.04 L534.29,98.44 L535.10,99.87 L535.85,101.25 L536.56,102.61 L537.27,104.00 L537.97,105.43 L538.67,106.86 L539.37,108.28 L540.06,109.69 L540.75,111.10 L541.44,112.51 L542.13,113.91 L542.82,115.30 L543.53,116.66 L544.26,118.03 L545.03,119.40 L545.80,120.74 L546.57,122.05 L547.35,123.31 L548.16,124.55 L549.03,125.80 L549.93,127.00 L550.86,128.21 L551.81,129.48 L552.69,130.72 L553.51,131.93 L554.35,133.19 L555.21,134.50 L556.08,135.81 L556.95,137.08 L557.84,138.34 L558.78,139.64 L559.74,140.94 L560.71,142.21 L561.68,143.42 L562.67,144.58 L563.74,145.72 L564.90,146.84 L566.10,147.89 L567.30,148.87 L568.52,149.80 L569.76,150.70 L571.02,151.55 L572.28,152.35 L573.56,153.11 L574.89,153.84 L576.26,154.54 L577.66,155.21 L579.05,155.91 L580.40,156.67 L581.68,157.48 L582.95,158.34 L584.25,159.21 L585.57,160.06 L586.87,160.87 L588.18,161.66 L589.53,162.45 L590.91,163.23 L592.28,163.98 L593.64,164.69 L595.00,165.36 L596.38,166.03 L597.76,166.70 L599.14,167.38 L600.51,168.07 L601.88,168.78 L603.25,169.49 L604.62,170.19 L606.00,170.86 L607.40,171.51 L608.85,172.14 L610.31,172.74 L611.77,173.31 L613.23,173.85 L614.69,174.36 L616.15,174.83 L617.61,175.28 L619.07,175.71 L620.53,176.13 L621.99,176.53 L623.45,176.94 L624.91,177.33 L626.37,177.71 L627.84,178.07 L629.34,178.41 L630.89,178.74 L632.45,179.04 L634.01,179.33 L635.58,179.61 L637.14,179.87 L638.71,180.11 L640.27,180.35 L641.84,180.58 L643.40,180.80 L644.96,181.03 L646.53,181.25 L648.09,181.46 L649.65,181.67 L651.15,181.85 L652.56,182.02 L653.95,182.17 L655.48,182.31 L657.19,182.44 L658.77,182.54 L660.19,182.63 L661.68,182.70 L663.26,182.78 L664.90,182.86 L666.55,182.94 L668.19,183.01 L669.76,183.08 L671.25,183.14 L672.80,183.21 L674.58,183.27 L676.42,183.34 L678.15,183.39 L679.66,183.43 L680.83,183.47 L682.00,183.50 L682.00,183.50" fill="none" stroke="#ea8b2a" stroke-width="1.12" stroke-linejoin="round" stroke-linecap="round" />
<rect x="403.5" y="12.5" width="279.0" height="173.0" fill="none" stroke="#2a2a2a" stroke-width="1"/>
<line x1="408.15" y1="185.5" x2="408.15" y2="187.5" stroke="#2a2a2a" stroke-width="1" />
<line x1="431.4" y1="185.5" x2="431.4" y2="189.0" stroke="#2a2a2a" stroke-width="1" />
<text x="430.79999999999995" y="202.2" font-size="11.5" text-anchor="middle" fill="#222" font-weight="normal" >450</text>
<line x1="454.65" y1="185.5" x2="454.65" y2="187.5" stroke="#2a2a2a" stroke-width="1" />
<line x1="477.9" y1="185.5" x2="477.9" y2="189.0" stroke="#2a2a2a" stroke-width="1" />
<text x="477.29999999999995" y="202.2" font-size="11.5" text-anchor="middle" fill="#222" font-weight="normal" >500</text>
<line x1="501.15" y1="185.5" x2="501.15" y2="187.5" stroke="#2a2a2a" stroke-width="1" />
<line x1="524.4" y1="185.5" x2="524.4" y2="189.0" stroke="#2a2a2a" stroke-width="1" />
<text x="523.8" y="202.2" font-size="11.5" text-anchor="middle" fill="#222" font-weight="normal" >550</text>
<line x1="547.65" y1="185.5" x2="547.65" y2="187.5" stroke="#2a2a2a" stroke-width="1" />
<line x1="570.9" y1="185.5" x2="570.9" y2="189.0" stroke="#2a2a2a" stroke-width="1" />
<text x="570.3" y="202.2" font-size="11.5" text-anchor="middle" fill="#222" font-weight="normal" >600</text>
<line x1="594.15" y1="185.5" x2="594.15" y2="187.5" stroke="#2a2a2a" stroke-width="1" />
<line x1="617.4" y1="185.5" x2="617.4" y2="189.0" stroke="#2a2a2a" stroke-width="1" />
<text x="616.8" y="202.2" font-size="11.5" text-anchor="middle" fill="#222" font-weight="normal" >650</text>
<line x1="640.65" y1="185.5" x2="640.65" y2="187.5" stroke="#2a2a2a" stroke-width="1" />
<line x1="663.9" y1="185.5" x2="663.9" y2="189.0" stroke="#2a2a2a" stroke-width="1" />
<text x="663.3" y="202.2" font-size="11.5" text-anchor="middle" fill="#222" font-weight="normal" >700</text>
<line x1="399.0" y1="185.5" x2="403.5" y2="185.5" stroke="#2a2a2a" stroke-width="1" />
<line x1="401.5" y1="172.2" x2="403.5" y2="172.2" stroke="#2a2a2a" stroke-width="1" />
<line x1="399.0" y1="158.9" x2="403.5" y2="158.9" stroke="#2a2a2a" stroke-width="1" />
<line x1="401.5" y1="145.6" x2="403.5" y2="145.6" stroke="#2a2a2a" stroke-width="1" />
<line x1="399.0" y1="132.3" x2="403.5" y2="132.3" stroke="#2a2a2a" stroke-width="1" />
<line x1="401.5" y1="119.0" x2="403.5" y2="119.0" stroke="#2a2a2a" stroke-width="1" />
<line x1="399.0" y1="105.69999999999999" x2="403.5" y2="105.69999999999999" stroke="#2a2a2a" stroke-width="1" />
<line x1="401.5" y1="92.39999999999999" x2="403.5" y2="92.39999999999999" stroke="#2a2a2a" stroke-width="1" />
<line x1="399.0" y1="79.1" x2="403.5" y2="79.1" stroke="#2a2a2a" stroke-width="1" />
<line x1="401.5" y1="65.8" x2="403.5" y2="65.8" stroke="#2a2a2a" stroke-width="1" />
<line x1="399.0" y1="52.5" x2="403.5" y2="52.5" stroke="#2a2a2a" stroke-width="1" />
<line x1="401.5" y1="39.19999999999999" x2="403.5" y2="39.19999999999999" stroke="#2a2a2a" stroke-width="1" />
<line x1="399.0" y1="25.899999999999977" x2="403.5" y2="25.899999999999977" stroke="#2a2a2a" stroke-width="1" />
<line x1="400.5" y1="12.5" x2="403.5" y2="12.5" stroke="#2a2a2a" stroke-width="1" />
<text x="388" y="96.6" font-size="11.15" text-anchor="middle" fill="#222" font-weight="normal" transform="rotate(-90 388 96.6)">Photoluminescence (arb. units)</text>
<text x="495.5" y="216" font-size="11.3" text-anchor="start" fill="#222" font-weight="normal" >Wavelength (nm)</text>
<text x="421.5" y="30" font-size="11.3" text-anchor="start" fill="#222" font-weight="normal" >77 K</text>
<text x="371.5" y="12" font-size="14.2" text-anchor="start" fill="#111" font-weight="bold" >b</text>
<line x1="571" y1="48.9" x2="596" y2="48.9" stroke="#181818" stroke-width="1.2" />
<text x="602.5" y="52.1" font-size="9.8" text-anchor="start" fill="#222" font-weight="normal" >405 nm</text>
<line x1="571" y1="59.0" x2="596" y2="59.0" stroke="#d93030" stroke-width="1.2" />
<text x="602.5" y="62.2" font-size="9.8" text-anchor="start" fill="#222" font-weight="normal" >360 nm</text>
<line x1="571" y1="69.1" x2="596" y2="69.1" stroke="#268a42" stroke-width="1.2" />
<text x="602.5" y="72.3" font-size="9.8" text-anchor="start" fill="#222" font-weight="normal" >330 nm</text>
<line x1="571" y1="79.19999999999999" x2="596" y2="79.19999999999999" stroke="#34479a" stroke-width="1.2" />
<text x="602.5" y="82.39999999999999" font-size="9.8" text-anchor="start" fill="#222" font-weight="normal" >300 nm</text>
<line x1="571" y1="89.3" x2="596" y2="89.3" stroke="#ea8b2a" stroke-width="1.2" />
<text x="602.5" y="92.5" font-size="9.8" text-anchor="start" fill="#222" font-weight="normal" >270 nm</text>
<path d="M52.40,395.45 C52.70,395.23 53.52,394.67 54.20,394.15 C54.88,393.63 55.89,392.95 56.50,392.35 C57.11,391.74 57.39,391.14 57.84,390.55 C58.28,389.95 58.72,389.45 59.16,388.78 C59.61,388.12 60.11,387.25 60.50,386.56 C60.89,385.87 61.18,385.27 61.52,384.65 C61.86,384.02 62.21,383.48 62.55,382.80 C62.89,382.12 63.24,381.28 63.58,380.55 C63.92,379.83 64.30,379.15 64.60,378.48 C64.90,377.81 65.14,377.19 65.40,376.56 C65.67,375.93 65.94,375.31 66.20,374.69 C66.47,374.07 66.73,373.47 67.00,372.85 C67.26,372.23 67.53,371.66 67.80,370.97 C68.06,370.27 68.35,369.36 68.60,368.69 C68.85,368.02 69.05,367.52 69.27,366.95 C69.49,366.38 69.71,365.84 69.93,365.27 C70.16,364.70 70.38,364.15 70.60,363.52 C70.82,362.90 71.05,362.18 71.28,361.51 C71.51,360.84 71.74,360.14 71.97,359.50 C72.21,358.85 72.47,358.31 72.70,357.64 C72.93,356.98 73.14,356.16 73.36,355.51 C73.59,354.87 73.83,354.44 74.07,353.78 C74.31,353.12 74.56,352.29 74.80,351.57 C75.05,350.85 75.29,350.16 75.53,349.48 C75.77,348.80 76.01,348.12 76.24,347.48 C76.47,346.84 76.69,346.22 76.90,345.65 C77.11,345.09 77.25,344.82 77.50,344.09 C77.75,343.37 78.11,342.13 78.38,341.31 C78.65,340.50 78.88,339.88 79.12,339.18 C79.36,338.48 79.57,337.82 79.80,337.12 C80.03,336.41 80.26,335.65 80.50,334.96 C80.74,334.27 80.98,333.66 81.22,332.99 C81.46,332.32 81.69,331.60 81.93,330.93 C82.17,330.26 82.40,329.65 82.65,328.99 C82.89,328.32 83.17,327.54 83.40,326.91 C83.63,326.28 83.82,325.82 84.04,325.19 C84.26,324.56 84.49,323.83 84.72,323.15 C84.95,322.46 85.18,321.75 85.40,321.08 C85.63,320.40 85.86,319.77 86.07,319.09 C86.29,318.41 86.50,317.69 86.70,316.99 C86.90,316.28 87.09,315.54 87.28,314.85 C87.46,314.16 87.64,313.55 87.82,312.85 C88.00,312.16 88.17,311.41 88.34,310.68 C88.52,309.94 88.69,309.13 88.86,308.44 C89.04,307.74 89.20,307.24 89.40,306.52 C89.60,305.80 89.86,304.88 90.09,304.10 C90.33,303.33 90.56,302.63 90.79,301.89 C91.03,301.14 91.26,300.38 91.50,299.64 C91.73,298.89 91.92,298.19 92.20,297.44 C92.48,296.68 92.83,295.93 93.15,295.12 C93.47,294.31 93.80,293.33 94.10,292.57 C94.41,291.82 94.66,291.32 95.00,290.58 C95.34,289.83 95.75,288.94 96.14,288.08 C96.52,287.21 96.94,286.15 97.30,285.40 C97.66,284.64 97.94,284.21 98.28,283.53 C98.62,282.85 99.00,282.00 99.33,281.32 C99.67,280.64 100.01,280.09 100.30,279.45 C100.59,278.81 100.85,278.16 101.10,277.50 C101.35,276.84 101.58,276.14 101.81,275.49 C102.04,274.84 102.27,274.29 102.50,273.61 C102.73,272.93 102.96,272.09 103.18,271.40 C103.40,270.71 103.62,270.11 103.84,269.47 C104.06,268.82 104.23,268.25 104.50,267.53 C104.77,266.81 105.10,265.95 105.44,265.16 C105.77,264.37 106.17,263.48 106.50,262.79 C106.83,262.10 107.09,261.65 107.41,261.03 C107.74,260.41 108.09,259.74 108.44,259.07 C108.79,258.40 109.16,257.62 109.50,256.99 C109.84,256.36 110.16,255.88 110.50,255.28 C110.83,254.68 111.14,253.98 111.53,253.39 C111.91,252.80 112.38,252.29 112.80,251.76 C113.22,251.23 113.59,250.71 114.03,250.19 C114.48,249.67 114.97,249.17 115.45,248.63 C115.93,248.09 116.44,247.49 116.92,246.94 C117.39,246.40 117.79,245.87 118.30,245.34 C118.81,244.80 119.44,244.23 119.99,243.75 C120.54,243.27 121.08,242.90 121.61,242.46 C122.15,242.02 122.57,241.53 123.20,241.11 C123.83,240.68 124.63,240.28 125.39,239.92 C126.16,239.55 127.06,239.16 127.80,238.90 C128.54,238.64 129.13,238.51 129.85,238.36 C130.57,238.20 131.36,237.99 132.12,237.95 C132.88,237.90 133.65,238.05 134.40,238.08 C135.15,238.11 135.88,238.02 136.63,238.12 C137.37,238.22 138.12,238.42 138.86,238.69 C139.61,238.97 140.45,239.38 141.10,239.77 C141.75,240.16 142.22,240.63 142.78,241.03 C143.34,241.43 143.90,241.69 144.46,242.18 C145.02,242.67 145.57,243.33 146.13,243.97 C146.69,244.61 147.34,245.40 147.80,246.01 C148.26,246.63 148.54,247.11 148.90,247.67 C149.27,248.22 149.64,248.77 150.00,249.37 C150.37,249.96 150.73,250.63 151.10,251.24 C151.47,251.85 151.83,252.39 152.20,253.04 C152.56,253.69 152.93,254.44 153.30,255.15 C153.66,255.85 154.06,256.56 154.40,257.26 C154.74,257.96 155.03,258.65 155.35,259.34 C155.67,260.03 155.99,260.75 156.31,261.41 C156.63,262.08 156.95,262.63 157.26,263.31 C157.58,263.98 157.90,264.76 158.22,265.48 C158.54,266.21 158.86,266.94 159.18,267.65 C159.50,268.36 159.82,269.05 160.14,269.74 C160.46,270.43 160.75,271.08 161.10,271.80 C161.45,272.51 161.84,273.30 162.22,274.01 C162.59,274.71 162.96,275.35 163.34,276.01 C163.71,276.67 164.08,277.29 164.46,277.96 C164.83,278.64 165.20,279.40 165.57,280.08 C165.95,280.75 166.32,281.36 166.69,282.02 C167.06,282.68 167.43,283.35 167.80,284.02 C168.17,284.69 168.54,285.42 168.90,286.06 C169.27,286.71 169.64,287.27 170.00,287.88 C170.37,288.48 170.73,289.08 171.10,289.69 C171.47,290.31 171.83,290.94 172.20,291.56 C172.56,292.17 172.93,292.81 173.30,293.38 C173.66,293.95 174.03,294.37 174.40,294.97 C174.77,295.56 175.14,296.34 175.51,296.95 C175.88,297.56 176.25,298.04 176.63,298.60 C177.00,299.15 177.37,299.73 177.74,300.28 C178.12,300.83 178.49,301.37 178.86,301.90 C179.24,302.42 179.61,302.88 179.98,303.41 C180.36,303.94 180.72,304.53 181.10,305.07 C181.48,305.61 181.85,306.09 182.24,306.67 C182.62,307.24 183.01,307.97 183.40,308.53 C183.78,309.10 184.17,309.53 184.56,310.07 C184.94,310.61 185.32,311.19 185.69,311.76 C186.06,312.32 186.43,312.90 186.78,313.44 C187.13,313.98 187.40,314.35 187.80,315.00 C188.20,315.64 188.75,316.58 189.19,317.30 C189.63,318.03 190.05,318.69 190.46,319.37 C190.87,320.06 191.26,320.74 191.65,321.41 C192.04,322.08 192.37,322.67 192.80,323.40 C193.23,324.12 193.77,324.97 194.23,325.74 C194.69,326.51 195.11,327.27 195.56,327.99 C196.00,328.71 196.45,329.30 196.90,330.06 C197.35,330.82 197.81,331.77 198.27,332.55 C198.72,333.32 199.17,334.00 199.64,334.71 C200.12,335.42 200.67,336.17 201.10,336.79 C201.53,337.42 201.86,337.92 202.25,338.47 C202.64,339.03 203.03,339.58 203.44,340.14 C203.84,340.69 204.25,341.24 204.68,341.78 C205.11,342.33 205.54,342.79 206.00,343.39 C206.46,343.98 206.93,344.72 207.42,345.35 C207.91,345.98 208.42,346.61 208.93,347.19 C209.44,347.76 209.96,348.25 210.47,348.80 C210.99,349.35 211.50,349.97 212.00,350.50 C212.50,351.02 212.99,351.45 213.48,351.95 C213.97,352.44 214.45,352.94 214.94,353.44 C215.43,353.95 215.92,354.48 216.43,354.98 C216.94,355.47 217.46,355.91 218.00,356.43 C218.54,356.95 219.11,357.62 219.68,358.12 C220.25,358.63 220.85,358.99 221.44,359.46 C222.03,359.93 222.63,360.40 223.23,360.93 C223.82,361.46 224.42,362.15 225.00,362.64 C225.58,363.12 226.15,363.45 226.73,363.84 C227.30,364.23 227.86,364.57 228.44,364.99 C229.01,365.40 229.59,365.93 230.18,366.32 C230.77,366.72 231.38,366.97 232.00,367.36 C232.62,367.75 233.25,368.23 233.88,368.66 C234.52,369.08 235.15,369.51 235.81,369.89 C236.47,370.28 237.14,370.60 237.84,370.96 C238.53,371.32 239.33,371.74 240.00,372.06 C240.67,372.38 241.23,372.58 241.87,372.89 C242.51,373.20 243.18,373.57 243.86,373.90 C244.53,374.23 245.22,374.48 245.90,374.84 C246.59,375.20 247.29,375.68 247.97,376.04 C248.65,376.40 249.33,376.65 250.00,377.01 C250.67,377.37 251.33,377.81 252.00,378.18 C252.67,378.54 253.33,378.83 254.00,379.18 C254.67,379.54 255.33,379.90 256.00,380.30 C256.67,380.70 257.33,381.19 258.00,381.58 C258.67,381.97 259.33,382.32 260.00,382.65 C260.67,382.97 261.33,383.23 262.00,383.52 C262.67,383.80 263.33,384.08 264.00,384.35 C264.67,384.62 265.33,384.89 266.00,385.14 C266.67,385.39 267.33,385.65 268.00,385.86 C268.67,386.07 269.33,386.20 270.00,386.42 C270.67,386.64 271.33,386.96 272.00,387.18 C272.67,387.40 273.33,387.58 274.00,387.76 C274.67,387.94 275.33,388.08 276.00,388.26 C276.67,388.43 277.33,388.62 278.00,388.82 C278.67,389.02 279.33,389.25 280.00,389.43 C280.67,389.62 281.33,389.76 282.00,389.95 C282.67,390.14 283.33,390.38 284.00,390.58 C284.67,390.78 285.33,390.99 286.00,391.13 C286.67,391.27 287.33,391.27 288.00,391.41 C288.67,391.54 289.33,391.79 290.00,391.93 C290.67,392.07 291.33,392.17 292.00,392.27 C292.67,392.37 293.33,392.48 294.00,392.53 C294.67,392.58 295.33,392.55 296.00,392.58 C296.67,392.62 297.33,392.68 298.00,392.74 C298.67,392.79 299.33,392.86 300.00,392.92 C300.67,392.97 301.33,393.02 302.00,393.07 C302.67,393.11 303.33,393.14 304.00,393.20 C304.67,393.25 305.33,393.36 306.00,393.42 C306.67,393.48 307.33,393.55 308.00,393.58 C308.67,393.61 309.33,393.62 310.00,393.60 C310.67,393.59 311.33,393.51 312.00,393.49 C312.67,393.47 313.33,393.50 314.00,393.50 C314.67,393.49 315.33,393.52 316.00,393.47 C316.67,393.43 317.33,393.22 318.00,393.20 C318.67,393.18 319.31,393.31 320.00,393.35 C320.69,393.39 321.41,393.42 322.16,393.44 C322.91,393.46 323.72,393.44 324.48,393.45 C325.24,393.45 326.03,393.49 326.72,393.49 C327.41,393.49 328.09,393.47 328.64,393.46 C329.19,393.45 329.77,393.41 330.00,393.40" fill="none" stroke="#111" stroke-width="1.4" stroke-linejoin="round" stroke-linecap="round" stroke-dasharray="2 2" stroke-linecap="butt"/>
<path d="M51.50,383.13 L52.54,381.71 L54.00,378.13 L55.56,376.50 L57.30,373.29 L58.58,371.05 L59.93,369.04 L61.30,365.31 L62.32,363.43 L63.35,360.81 L64.38,358.32 L65.40,355.89 L66.42,353.17 L67.44,351.39 L68.44,348.22 L69.40,345.93 L70.31,343.24 L71.17,340.99 L72.01,338.66 L72.80,336.80 L73.78,333.42 L74.70,330.46 L75.60,327.76 L76.28,326.06 L76.95,322.53 L77.62,320.58 L78.30,318.18 L79.69,315.50 L81.10,312.64 L82.46,309.75 L83.90,306.50 L85.61,304.77 L87.40,302.80 L88.54,299.63 L89.66,295.79 L90.80,292.86 L92.59,291.42 L94.30,289.19 L95.76,286.58 L97.10,284.95 L98.31,282.20 L99.70,280.13 L101.70,278.59 L103.90,276.19 L106.01,273.58 L108.10,271.18 L110.15,267.68 L112.20,265.56 L114.29,262.05 L116.40,259.89 L118.59,257.41 L120.60,255.35 L123.30,251.04 L125.31,248.29 L127.50,245.50 L129.65,243.14 L131.70,241.03 L133.44,237.30 L135.10,234.27 L136.89,237.20 L138.60,238.91 L139.96,236.04 L141.40,232.32 L143.51,233.04 L145.60,234.91 L147.04,237.61 L148.30,240.07 L151.10,244.26 L152.54,246.88 L153.90,250.60 L154.95,253.55 L156.00,255.02 L157.38,257.81 L158.75,259.80 L159.77,263.45 L160.80,266.85 L162.15,268.26 L163.60,271.98 L165.00,273.67 L166.40,275.52 L167.72,278.71 L169.20,280.32 L170.47,282.81 L171.88,286.63 L173.30,289.22 L175.39,292.48 L177.50,295.20 L178.93,297.35 L180.36,300.00 L181.70,301.82 L182.89,303.90 L183.99,306.33 L185.10,308.49 L186.80,311.38 L188.60,313.05 L190.70,316.48 L192.80,318.91 L194.01,321.53 L195.13,324.41 L196.25,325.01 L198.00,327.77 L199.70,330.75 L201.29,334.34 L202.80,337.73 L204.23,340.57 L205.60,342.23 L206.95,346.01 L208.30,346.51 L211.10,349.35 L213.90,351.68 L215.92,354.93 L218.10,355.56 L220.24,359.30 L222.20,361.07 L223.72,364.23 L225.00,365.54 L227.10,363.42 L230.60,367.65 L234.00,370.19 L236.10,368.85 L237.91,371.48 L240.00,373.20 L244.40,374.18 L248.60,375.52 L250.00,375.70 L251.46,378.61 L253.00,380.76 L255.00,378.40 L258.30,380.15 L260.00,380.98 L261.42,383.94 L263.00,386.38 L266.00,384.22 L270.00,386.89 L274.00,389.58 L276.00,388.16 L278.00,391.86 L281.00,388.79 L285.00,389.98 L287.56,392.68 L290.00,394.79 L293.00,390.82 L296.00,393.89 L300.00,391.85 L303.00,395.07 L304.56,393.72 L306.00,391.40 L308.00,394.00 L311.00,392.76" fill="none" stroke="#111" stroke-width="1.4" stroke-linejoin="round" stroke-linecap="round" />
<path d="M80.00,397.25 L81.36,397.10 L83.28,396.75 L85.52,397.74 L87.84,396.51 L90.00,397.20 L92.00,397.79 L94.00,396.70 L96.00,397.42 L98.00,397.56 L100.00,396.76 L102.05,397.19 L104.16,397.57 L106.24,397.13 L108.22,397.41 L110.00,396.52 L112.45,396.62 L114.53,396.41 L116.60,396.51 L118.85,395.90 L121.10,393.80 L123.20,392.48 L125.06,390.75 L126.76,390.12 L128.40,387.64 L129.62,386.09 L130.82,384.42 L131.96,382.32 L133.00,380.19 L134.78,378.04 L136.30,377.27 L138.90,374.59 L140.17,372.61 L141.60,371.43 L143.47,369.84 L145.50,370.24 L147.58,368.70 L149.50,366.48 L152.10,369.33 L154.59,369.83 L157.40,369.33 L160.00,370.67 L162.60,371.57 L164.36,369.33 L166.13,368.33 L167.90,366.57 L170.64,367.72 L173.20,368.95 L175.32,367.29 L177.10,366.11 L179.70,365.82 L182.18,367.36 L185.00,367.72 L187.66,368.33 L190.30,369.50 L192.94,371.23 L195.50,371.99 L197.78,373.93 L200.10,375.99 L202.88,375.72 L205.60,376.61 L207.73,376.70 L209.70,378.05 L211.71,379.15 L213.90,378.68 L215.63,380.31 L217.51,381.47 L219.40,381.61 L222.28,381.86 L225.00,382.79 L227.19,383.67 L229.20,382.97 L231.34,382.34 L233.30,381.33 L236.10,382.43 L237.28,384.61 L238.58,385.78 L240.00,387.51 L242.43,387.48 L245.00,386.53 L247.50,387.79 L250.00,387.82 L252.50,387.35 L255.00,387.51 L256.67,388.08 L258.33,389.48 L260.00,391.06 L261.74,393.71 L263.48,395.04 L265.00,395.33 L266.56,395.44 L268.00,393.06 L269.94,392.44 L272.00,391.80 L274.00,392.57 L276.00,392.75 L277.94,391.49 L280.00,391.38 L282.44,391.14 L285.00,393.00 L287.50,392.85 L290.00,394.39 L292.50,393.22 L295.00,391.90 L296.67,393.23 L298.33,394.30 L300.00,396.13 L302.50,395.43 L305.00,394.32 L307.62,394.87 L310.00,393.86 L313.00,394.82" fill="none" stroke="#c82a2a" stroke-width="1.3" stroke-linejoin="round" stroke-linecap="round" stroke-dasharray="3.2 1.8 1 1.8" stroke-linecap="butt"/>
<rect x="51.5" y="225.0" width="279.0" height="172.5" fill="none" stroke="#2a2a2a" stroke-width="1"/>
<line x1="56.15" y1="397.5" x2="56.15" y2="399.5" stroke="#2a2a2a" stroke-width="1" />
<line x1="79.4" y1="397.5" x2="79.4" y2="401.0" stroke="#2a2a2a" stroke-width="1" />
<text x="78.80000000000001" y="414" font-size="11.5" text-anchor="middle" fill="#222" font-weight="normal" >450</text>
<line x1="102.65" y1="397.5" x2="102.65" y2="399.5" stroke="#2a2a2a" stroke-width="1" />
<line x1="125.9" y1="397.5" x2="125.9" y2="401.0" stroke="#2a2a2a" stroke-width="1" />
<text x="125.30000000000001" y="414" font-size="11.5" text-anchor="middle" fill="#222" font-weight="normal" >500</text>
<line x1="149.15" y1="397.5" x2="149.15" y2="399.5" stroke="#2a2a2a" stroke-width="1" />
<line x1="172.4" y1="397.5" x2="172.4" y2="401.0" stroke="#2a2a2a" stroke-width="1" />
<text x="171.8" y="414" font-size="11.5" text-anchor="middle" fill="#222" font-weight="normal" >550</text>
<line x1="195.65" y1="397.5" x2="195.65" y2="399.5" stroke="#2a2a2a" stroke-width="1" />
<line x1="218.9" y1="397.5" x2="218.9" y2="401.0" stroke="#2a2a2a" stroke-width="1" />
<text x="218.3" y="414" font-size="11.5" text-anchor="middle" fill="#222" font-weight="normal" >600</text>
<line x1="242.15" y1="397.5" x2="242.15" y2="399.5" stroke="#2a2a2a" stroke-width="1" />
<line x1="265.4" y1="397.5" x2="265.4" y2="401.0" stroke="#2a2a2a" stroke-width="1" />
<text x="264.79999999999995" y="414" font-size="11.5" text-anchor="middle" fill="#222" font-weight="normal" >650</text>
<line x1="288.65" y1="397.5" x2="288.65" y2="399.5" stroke="#2a2a2a" stroke-width="1" />
<line x1="311.9" y1="397.5" x2="311.9" y2="401.0" stroke="#2a2a2a" stroke-width="1" />
<text x="311.29999999999995" y="414" font-size="11.5" text-anchor="middle" fill="#222" font-weight="normal" >700</text>
<line x1="47.0" y1="397.5" x2="51.5" y2="397.5" stroke="#2a2a2a" stroke-width="1" />
<line x1="49.5" y1="374.75" x2="51.5" y2="374.75" stroke="#2a2a2a" stroke-width="1" />
<line x1="47.0" y1="352.0" x2="51.5" y2="352.0" stroke="#2a2a2a" stroke-width="1" />
<line x1="49.5" y1="329.25" x2="51.5" y2="329.25" stroke="#2a2a2a" stroke-width="1" />
<line x1="47.0" y1="306.5" x2="51.5" y2="306.5" stroke="#2a2a2a" stroke-width="1" />
<line x1="49.5" y1="283.75" x2="51.5" y2="283.75" stroke="#2a2a2a" stroke-width="1" />
<line x1="47.0" y1="261.0" x2="51.5" y2="261.0" stroke="#2a2a2a" stroke-width="1" />
<line x1="49.5" y1="238.25" x2="51.5" y2="238.25" stroke="#2a2a2a" stroke-width="1" />
<text x="37" y="312.9" font-size="11.15" text-anchor="middle" fill="#222" font-weight="normal" transform="rotate(-90 37 312.9)">Photoluminescence (arb. units)</text>
<text x="144" y="428" font-size="11.3" text-anchor="start" fill="#222" font-weight="normal" >Wavelength (nm)</text>
<text x="3.5" y="228" font-size="14.2" text-anchor="start" fill="#111" font-weight="bold" >c</text>
<text x="188.5" y="254.4" font-size="9.8" text-anchor="start" fill="#222" font-weight="normal" >Triplet contribution (TADF + P)</text>
<line x1="199.3" y1="265.8" x2="223.8" y2="265.8" stroke="#222" stroke-width="1.3" />
<line x1="199.3" y1="276.8" x2="223.8" y2="276.8" stroke="#222" stroke-width="1.3" stroke-dasharray="2 2"/>
<line x1="199.3" y1="306.5" x2="223.8" y2="306.5" stroke="#c82a2a" stroke-width="1.0" stroke-dasharray="3.2 1.8 1 1.8"/>
<text x="231.3" y="268.8" font-size="9.8" text-anchor="start" fill="#222" font-weight="normal" >temporal</text>
<text x="231.3" y="279.6" font-size="9.8" text-anchor="start" fill="#222" font-weight="normal" >spectral</text>
<text x="231.3" y="309.8" font-size="9.8" text-anchor="start" fill="#222" font-weight="normal" >Phosphorescence</text>
<path d="M403.20,385.60 L403.98,383.88 L404.45,382.87 L405.08,381.52 L405.82,380.02 L406.58,378.55 L407.35,377.17 L408.13,375.87 L408.93,374.58 L409.72,373.28 L410.49,371.96 L411.24,370.61 L411.96,369.24 L412.67,367.84 L413.37,366.42 L414.07,365.00 L414.76,363.59 L415.46,362.21 L416.15,360.84 L416.84,359.48 L417.52,358.11 L418.21,356.73 L418.88,355.34 L419.54,353.94 L420.19,352.54 L420.83,351.12 L421.47,349.70 L422.10,348.29 L422.71,346.91 L423.33,345.52 L423.96,344.10 L424.60,342.66 L425.23,341.25 L425.84,339.86 L426.44,338.48 L427.03,337.11 L427.62,335.73 L428.22,334.34 L428.85,332.94 L429.52,331.55 L430.24,330.17 L430.99,328.79 L431.78,327.41 L432.57,326.03 L433.37,324.64 L434.17,323.25 L434.96,321.84 L435.75,320.44 L436.54,319.05 L437.34,317.68 L438.17,316.32 L439.04,314.96 L439.95,313.64 L440.92,312.39 L441.98,311.26 L443.18,310.25 L444.50,309.39 L445.90,308.66 L447.35,308.06 L448.82,307.58 L450.31,307.22 L451.80,307.01 L453.31,306.93 L454.83,307.01 L456.35,307.23 L457.84,307.58 L459.30,308.04 L460.72,308.60 L462.09,309.27 L463.41,310.06 L464.65,310.93 L465.82,311.89 L466.94,312.93 L468.06,314.03 L469.18,315.16 L470.29,316.27 L471.38,317.37 L472.46,318.45 L473.56,319.55 L474.67,320.66 L475.78,321.78 L476.89,322.89 L478.00,324.00 L479.11,325.11 L480.22,326.22 L481.32,327.32 L482.43,328.43 L483.53,329.53 L484.63,330.63 L485.72,331.73 L486.81,332.82 L487.89,333.91 L488.98,335.00 L490.07,336.08 L491.17,337.15 L492.27,338.22 L493.37,339.28 L494.47,340.34 L495.58,341.40 L496.68,342.45 L497.79,343.49 L498.89,344.53 L499.99,345.55 L501.09,346.58 L502.22,347.61 L503.37,348.65 L504.54,349.68 L505.71,350.68 L506.88,351.65 L508.06,352.62 L509.26,353.59 L510.47,354.57 L511.67,355.53 L512.84,356.50 L514.01,357.48 L515.19,358.51 L516.38,359.57 L517.55,360.64 L518.68,361.68 L519.79,362.70 L520.90,363.71 L522.02,364.73 L523.15,365.74 L524.28,366.72 L525.41,367.67 L526.58,368.59 L527.79,369.48 L529.06,370.34 L530.36,371.18 L531.68,372.00 L533.02,372.81 L534.39,373.62 L535.76,374.43 L537.15,375.23 L538.53,376.00 L539.92,376.76 L541.31,377.49 L542.71,378.19 L544.13,378.86 L545.59,379.50 L547.09,380.11 L548.60,380.68 L550.09,381.21 L551.52,381.70 L552.94,382.16 L554.38,382.60 L555.83,383.03 L557.31,383.45 L558.82,383.87 L560.38,384.30 L561.93,384.71 L563.46,385.11 L564.97,385.48 L566.45,385.84 L567.95,386.19 L569.44,386.54 L570.93,386.89 L572.41,387.23 L573.87,387.56 L575.34,387.90 L576.85,388.23 L578.38,388.56 L579.90,388.87 L581.41,389.16 L582.91,389.44 L584.42,389.71 L585.95,389.98 L587.49,390.24 L589.04,390.48 L590.58,390.71 L592.10,390.92 L593.62,391.11 L595.14,391.29 L596.65,391.45 L598.16,391.60 L599.68,391.75 L601.19,391.90 L602.70,392.05 L604.22,392.19 L605.73,392.34 L607.25,392.48 L608.76,392.61 L610.27,392.74 L611.78,392.87 L613.27,393.00 L614.75,393.11 L616.19,393.23 L617.64,393.34 L619.10,393.45 L620.60,393.55 L622.15,393.66 L623.70,393.75 L625.19,393.85 L626.62,393.93 L628.03,394.01 L629.46,394.09 L630.93,394.17 L632.44,394.25 L633.99,394.33 L635.58,394.41 L637.20,394.48 L638.79,394.55 L640.33,394.61 L641.80,394.67 L643.23,394.72 L644.67,394.77 L646.13,394.82 L647.61,394.86 L649.11,394.91 L650.63,394.95 L652.17,395.00 L653.72,395.04 L655.28,395.08 L656.85,395.12 L658.41,395.16 L659.97,395.20 L661.54,395.23 L663.13,395.27 L664.78,395.30 L666.48,395.33 L668.20,395.37 L669.93,395.40 L671.65,395.43 L673.32,395.46 L674.93,395.48 L676.46,395.51 L677.88,395.53 L679.12,395.55 L680.12,395.57 L680.81,395.58 L682.00,395.60" fill="none" stroke="#181818" stroke-width="1.25" stroke-linejoin="round" stroke-linecap="round" />
<path d="M403.40,385.80 L404.18,384.08 L404.65,383.07 L405.28,381.72 L406.02,380.22 L406.78,378.75 L407.55,377.37 L408.33,376.07 L409.13,374.78 L409.92,373.48 L410.69,372.16 L411.44,370.81 L412.16,369.44 L412.87,368.04 L413.57,366.62 L414.27,365.20 L414.96,363.79 L415.66,362.40 L416.34,361.03 L417.03,359.67 L417.71,358.30 L418.39,356.91 L419.06,355.51 L419.71,354.11 L420.35,352.69 L420.98,351.26 L421.60,349.83 L422.22,348.41 L422.82,347.01 L423.42,345.61 L424.04,344.19 L424.67,342.75 L425.28,341.33 L425.87,339.93 L426.45,338.54 L427.01,337.15 L427.55,335.77 L428.11,334.37 L428.69,332.96 L429.29,331.54 L429.93,330.14 L430.59,328.76 L431.29,327.37 L432.00,325.98 L432.72,324.61 L433.45,323.25 L434.20,321.89 L434.97,320.53 L435.75,319.19 L436.54,317.88 L437.34,316.59 L438.17,315.30 L439.04,313.99 L439.95,312.69 L440.92,311.46 L441.98,310.36 L443.18,309.39 L444.50,308.57 L445.90,307.90 L447.35,307.36 L448.82,306.95 L450.31,306.68 L451.80,306.52 L453.31,306.48 L454.83,306.54 L456.35,306.70 L457.88,306.96 L459.39,307.32 L460.89,307.78 L462.37,308.34 L463.81,309.00 L465.17,309.74 L466.48,310.56 L467.76,311.46 L469.02,312.44 L470.22,313.47 L471.36,314.51 L472.46,315.57 L473.56,316.68 L474.67,317.82 L475.78,318.95 L476.89,320.08 L478.00,321.20 L479.11,322.31 L480.22,323.42 L481.32,324.52 L482.43,325.63 L483.53,326.73 L484.63,327.84 L485.72,328.95 L486.81,330.06 L487.89,331.16 L488.99,332.24 L490.09,333.29 L491.21,334.32 L492.35,335.31 L493.51,336.28 L494.67,337.23 L495.84,338.18 L497.00,339.15 L498.14,340.13 L499.25,341.13 L500.36,342.14 L501.47,343.16 L502.60,344.21 L503.76,345.27 L504.92,346.31 L506.07,347.32 L507.21,348.31 L508.36,349.29 L509.54,350.29 L510.73,351.30 L511.93,352.31 L513.12,353.31 L514.33,354.33 L515.55,355.35 L516.78,356.39 L518.02,357.43 L519.26,358.46 L520.47,359.46 L521.66,360.43 L522.86,361.37 L524.11,362.32 L525.41,363.25 L526.71,364.15 L527.98,364.99 L529.23,365.80 L530.49,366.61 L531.78,367.42 L533.06,368.22 L534.33,369.02 L535.60,369.82 L536.87,370.63 L538.14,371.44 L539.42,372.24 L540.72,373.03 L542.07,373.81 L543.44,374.56 L544.84,375.29 L546.25,376.02 L547.68,376.74 L549.10,377.45 L550.48,378.15 L551.81,378.81 L553.10,379.46 L554.39,380.09 L555.71,380.71 L557.07,381.33 L558.50,381.95 L559.98,382.58 L561.49,383.19 L562.99,383.74 L564.48,384.24 L565.96,384.69 L567.45,385.10 L568.94,385.49 L570.44,385.86 L571.92,386.22 L573.38,386.56 L574.85,386.90 L576.34,387.23 L577.87,387.55 L579.40,387.87 L580.91,388.17 L582.41,388.46 L583.91,388.75 L585.44,389.03 L586.98,389.30 L588.53,389.57 L590.07,389.82 L591.60,390.07 L593.12,390.30 L594.63,390.52 L596.15,390.73 L597.66,390.93 L599.17,391.13 L600.69,391.31 L602.20,391.49 L603.71,391.66 L605.23,391.82 L606.74,391.98 L608.25,392.13 L609.77,392.27 L611.28,392.41 L612.78,392.55 L614.26,392.69 L615.71,392.83 L617.15,392.97 L618.61,393.11 L620.09,393.25 L621.63,393.38 L623.19,393.50 L624.70,393.62 L626.15,393.72 L627.56,393.81 L628.98,393.91 L630.44,394.00 L631.93,394.09 L633.47,394.18 L635.05,394.26 L636.66,394.34 L638.27,394.42 L639.83,394.49 L641.32,394.55 L642.76,394.61 L644.19,394.66 L645.64,394.71 L647.11,394.75 L648.61,394.80 L650.12,394.84 L651.66,394.89 L653.20,394.93 L654.76,394.97 L656.33,395.01 L657.89,395.05 L659.45,395.09 L661.01,395.12 L662.60,395.16 L664.23,395.19 L665.91,395.22 L667.62,395.26 L669.35,395.29 L671.08,395.32 L672.77,395.35 L674.40,395.37 L675.96,395.40 L677.42,395.42 L678.73,395.44 L679.82,395.46 L680.61,395.48 L682.00,395.50 L682.00,395.50" fill="none" stroke="#d93030" stroke-width="1.12" stroke-linejoin="round" stroke-linecap="round" />
<path d="M403.00,385.50 L403.78,383.78 L404.25,382.77 L404.88,381.42 L405.62,379.92 L406.38,378.45 L407.15,377.07 L407.93,375.77 L408.73,374.48 L409.52,373.18 L410.29,371.86 L411.04,370.51 L411.76,369.14 L412.47,367.74 L413.17,366.32 L413.87,364.90 L414.56,363.49 L415.26,362.11 L415.95,360.74 L416.64,359.38 L417.34,358.02 L418.03,356.64 L418.71,355.25 L419.38,353.86 L420.04,352.46 L420.69,351.05 L421.34,349.64 L421.98,348.24 L422.61,346.86 L423.24,345.48 L423.89,344.08 L424.54,342.68 L425.17,341.28 L425.78,339.89 L426.37,338.50 L426.92,337.09 L427.46,335.67 L427.98,334.23 L428.53,332.77 L429.11,331.33 L429.73,329.91 L430.38,328.52 L431.06,327.15 L431.76,325.79 L432.48,324.42 L433.19,323.04 L433.90,321.65 L434.61,320.24 L435.31,318.81 L436.02,317.38 L436.72,315.97 L437.43,314.58 L438.18,313.20 L438.98,311.80 L439.81,310.43 L440.69,309.13 L441.65,307.93 L442.71,306.84 L443.90,305.87 L445.17,305.03 L446.51,304.29 L447.90,303.67 L449.33,303.14 L450.81,302.73 L452.31,302.43 L453.82,302.23 L455.34,302.13 L456.86,302.12 L458.38,302.21 L459.89,302.40 L461.39,302.69 L462.84,303.12 L464.22,303.72 L465.51,304.48 L466.73,305.38 L467.92,306.39 L469.10,307.47 L470.26,308.57 L471.37,309.66 L472.46,310.75 L473.56,311.87 L474.67,313.01 L475.78,314.15 L476.89,315.28 L478.00,316.39 L479.11,317.48 L480.22,318.57 L481.32,319.66 L482.43,320.75 L483.53,321.85 L484.63,322.96 L485.72,324.08 L486.81,325.21 L487.90,326.33 L488.99,327.43 L490.12,328.50 L491.28,329.55 L492.51,330.58 L493.76,331.59 L495.01,332.57 L496.23,333.55 L497.43,334.57 L498.59,335.64 L499.72,336.77 L500.83,337.92 L501.92,339.05 L503.05,340.16 L504.22,341.22 L505.43,342.25 L506.65,343.27 L507.86,344.32 L509.05,345.39 L510.21,346.50 L511.36,347.64 L512.49,348.77 L513.61,349.89 L514.75,350.99 L515.89,352.06 L517.05,353.10 L518.22,354.11 L519.41,355.09 L520.63,356.05 L521.87,357.00 L523.12,357.94 L524.36,358.88 L525.58,359.82 L526.79,360.75 L528.00,361.68 L529.22,362.59 L530.47,363.50 L531.74,364.38 L533.02,365.26 L534.31,366.14 L535.59,367.03 L536.87,367.93 L538.14,368.85 L539.41,369.77 L540.68,370.68 L541.97,371.57 L543.26,372.43 L544.55,373.26 L545.87,374.07 L547.22,374.85 L548.59,375.59 L549.97,376.30 L551.34,376.96 L552.69,377.59 L554.03,378.19 L555.39,378.79 L556.75,379.43 L558.12,380.11 L559.53,380.82 L560.97,381.53 L562.45,382.19 L563.92,382.77 L565.39,383.27 L566.88,383.71 L568.40,384.13 L569.92,384.52 L571.42,384.88 L572.89,385.22 L574.36,385.53 L575.84,385.84 L577.36,386.15 L578.89,386.47 L580.41,386.80 L581.91,387.14 L583.41,387.49 L584.92,387.85 L586.46,388.20 L588.01,388.55 L589.55,388.87 L591.09,389.17 L592.61,389.44 L594.13,389.69 L595.64,389.92 L597.15,390.13 L598.67,390.33 L600.18,390.53 L601.70,390.73 L603.21,390.94 L604.72,391.14 L606.24,391.33 L607.75,391.53 L609.26,391.72 L610.77,391.90 L612.28,392.08 L613.77,392.25 L615.23,392.41 L616.67,392.57 L618.12,392.72 L619.59,392.87 L621.11,393.01 L622.67,393.15 L624.20,393.28 L625.67,393.40 L627.09,393.50 L628.50,393.61 L629.95,393.71 L631.43,393.81 L632.95,393.91 L634.52,394.01 L636.12,394.10 L637.73,394.18 L639.32,394.26 L640.83,394.33 L642.28,394.39 L643.71,394.45 L645.15,394.50 L646.62,394.55 L648.11,394.59 L649.62,394.64 L651.14,394.68 L652.69,394.72 L654.24,394.76 L655.81,394.80 L657.37,394.84 L658.93,394.87 L660.49,394.91 L662.06,394.94 L663.68,394.98 L665.34,395.01 L667.05,395.04 L668.78,395.08 L670.51,395.11 L672.21,395.14 L673.87,395.16 L675.45,395.19 L676.95,395.22 L678.32,395.24 L679.49,395.26 L680.38,395.27 L680.98,395.28 L682.00,395.30" fill="none" stroke="#268a42" stroke-width="1.12" stroke-linejoin="round" stroke-linecap="round" />
<path d="M403.60,385.90 L404.38,384.18 L404.85,383.17 L405.48,381.82 L406.22,380.32 L406.98,378.85 L407.75,377.47 L408.53,376.17 L409.33,374.88 L410.12,373.58 L410.89,372.26 L411.64,370.91 L412.36,369.54 L413.07,368.14 L413.77,366.73 L414.47,365.30 L415.16,363.89 L415.85,362.50 L416.54,361.13 L417.22,359.77 L417.90,358.39 L418.57,357.00 L419.23,355.60 L419.87,354.19 L420.50,352.77 L421.12,351.34 L421.73,349.90 L422.33,348.47 L422.92,347.06 L423.52,345.64 L424.14,344.17 L424.78,342.69 L425.39,341.23 L425.97,339.80 L426.53,338.38 L427.08,336.93 L427.61,335.47 L428.14,334.01 L428.70,332.57 L429.29,331.11 L429.91,329.63 L430.53,328.15 L431.14,326.70 L431.75,325.26 L432.37,323.80 L433.01,322.33 L433.67,320.86 L434.34,319.43 L435.02,318.03 L435.72,316.63 L436.43,315.23 L437.14,313.81 L437.83,312.38 L438.50,310.95 L439.14,309.50 L439.76,308.05 L440.40,306.60 L441.06,305.18 L441.78,303.79 L442.59,302.44 L443.48,301.12 L444.44,299.83 L445.44,298.61 L446.48,297.44 L447.57,296.32 L448.75,295.24 L449.99,294.20 L451.26,293.24 L452.55,292.33 L453.85,291.45 L455.19,290.61 L456.57,289.87 L458.01,289.27 L459.49,288.80 L461.02,288.47 L462.56,288.26 L464.09,288.19 L465.60,288.24 L467.10,288.41 L468.60,288.67 L470.10,289.03 L471.61,289.48 L473.10,290.03 L474.57,290.66 L476.00,291.36 L477.40,292.11 L478.79,292.92 L480.16,293.76 L481.51,294.63 L482.84,295.52 L484.13,296.41 L485.41,297.30 L486.70,298.19 L488.02,299.07 L489.32,299.93 L490.60,300.77 L491.87,301.62 L493.11,302.53 L494.29,303.50 L495.44,304.54 L496.57,305.65 L497.68,306.79 L498.75,307.94 L499.80,309.09 L500.84,310.27 L501.88,311.50 L502.89,312.75 L503.85,314.02 L504.76,315.30 L505.65,316.61 L506.53,317.93 L507.42,319.25 L508.31,320.55 L509.22,321.82 L510.15,323.07 L511.08,324.31 L512.02,325.53 L512.96,326.73 L513.91,327.92 L514.86,329.10 L515.83,330.28 L516.80,331.44 L517.78,332.59 L518.76,333.71 L519.76,334.84 L520.79,335.98 L521.85,337.11 L522.90,338.23 L523.96,339.32 L525.02,340.40 L526.09,341.46 L527.16,342.51 L528.23,343.55 L529.29,344.62 L530.36,345.73 L531.43,346.88 L532.50,348.06 L533.58,349.24 L534.68,350.41 L535.81,351.56 L536.97,352.68 L538.13,353.77 L539.28,354.84 L540.42,355.91 L541.55,356.99 L542.69,358.06 L543.84,359.12 L545.00,360.17 L546.18,361.22 L547.37,362.26 L548.58,363.30 L549.79,364.31 L550.99,365.30 L552.20,366.26 L553.41,367.19 L554.63,368.09 L555.89,368.95 L557.16,369.77 L558.46,370.55 L559.76,371.31 L561.09,372.06 L562.44,372.80 L563.81,373.52 L565.20,374.23 L566.60,374.91 L568.02,375.56 L569.43,376.20 L570.83,376.83 L572.21,377.45 L573.57,378.07 L574.92,378.69 L576.26,379.28 L577.63,379.85 L579.03,380.40 L580.49,380.91 L581.99,381.40 L583.52,381.87 L585.06,382.37 L586.59,382.90 L588.10,383.45 L589.60,384.02 L591.11,384.57 L592.63,385.10 L594.15,385.60 L595.68,386.07 L597.19,386.51 L598.70,386.92 L600.20,387.30 L601.71,387.69 L603.22,388.07 L604.75,388.45 L606.27,388.82 L607.79,389.15 L609.30,389.44 L610.80,389.70 L612.31,389.95 L613.82,390.20 L615.34,390.47 L616.86,390.74 L618.38,391.00 L619.89,391.25 L621.40,391.47 L622.88,391.69 L624.35,391.88 L625.80,392.06 L627.26,392.22 L628.73,392.37 L630.18,392.51 L631.53,392.64 L632.86,392.76 L634.24,392.88 L635.75,393.00 L637.39,393.12 L639.05,393.23 L640.60,393.33 L642.02,393.42 L643.38,393.49 L644.78,393.57 L646.23,393.65 L647.73,393.73 L649.28,393.81 L650.86,393.88 L652.47,393.96 L654.08,394.04 L655.71,394.11 L657.32,394.18 L658.91,394.25 L660.48,394.32 L662.06,394.38 L663.68,394.44 L665.34,394.49 L667.05,394.55 L668.78,394.60 L670.51,394.66 L672.21,394.71 L673.87,394.76 L675.45,394.81 L676.95,394.85 L678.32,394.89 L679.49,394.92 L680.38,394.95 L680.98,394.97 L682.00,395.00" fill="none" stroke="#34479a" stroke-width="1.12" stroke-linejoin="round" stroke-linecap="round" />
<path d="M404.10,386.10 L404.88,384.38 L405.35,383.37 L405.98,382.02 L406.72,380.52 L407.48,379.05 L408.25,377.67 L409.03,376.37 L409.83,375.08 L410.62,373.78 L411.39,372.46 L412.14,371.11 L412.87,369.74 L413.57,368.34 L414.28,366.93 L414.97,365.50 L415.66,364.09 L416.35,362.70 L417.03,361.33 L417.70,359.96 L418.36,358.58 L419.02,357.19 L419.66,355.77 L420.28,354.36 L420.88,352.94 L421.47,351.50 L422.06,350.05 L422.62,348.62 L423.18,347.20 L423.73,345.79 L424.28,344.36 L424.82,342.94 L425.35,341.52 L425.87,340.09 L426.36,338.65 L426.83,337.23 L427.28,335.83 L427.71,334.41 L428.14,332.97 L428.59,331.48 L429.05,329.98 L429.52,328.49 L430.00,327.05 L430.48,325.63 L430.98,324.23 L431.48,322.81 L432.00,321.37 L432.52,319.93 L433.04,318.49 L433.55,317.06 L434.07,315.63 L434.57,314.21 L435.08,312.80 L435.58,311.38 L436.09,309.96 L436.59,308.55 L437.10,307.13 L437.60,305.71 L438.11,304.27 L438.62,302.81 L439.13,301.34 L439.64,299.86 L440.15,298.38 L440.66,296.91 L441.17,295.43 L441.69,293.96 L442.21,292.48 L442.74,290.99 L443.27,289.48 L443.82,287.96 L444.36,286.46 L444.89,284.99 L445.42,283.58 L445.95,282.20 L446.51,280.82 L447.10,279.43 L447.72,278.07 L448.36,276.76 L449.01,275.46 L449.67,274.15 L450.33,272.83 L450.99,271.50 L451.69,270.15 L452.41,268.77 L453.17,267.41 L453.96,266.06 L454.80,264.74 L455.68,263.42 L456.59,262.13 L457.53,260.86 L458.49,259.62 L459.48,258.42 L460.52,257.24 L461.62,256.08 L462.77,254.95 L463.95,253.89 L465.15,252.91 L466.40,252.01 L467.72,251.20 L469.10,250.47 L470.53,249.86 L471.99,249.36 L473.49,248.95 L475.04,248.65 L476.61,248.47 L478.17,248.40 L479.71,248.46 L481.22,248.64 L482.70,248.93 L484.15,249.31 L485.59,249.77 L487.01,250.31 L488.39,250.98 L489.74,251.80 L491.03,252.77 L492.26,253.81 L493.44,254.86 L494.61,255.86 L495.77,256.86 L496.89,257.92 L497.94,259.08 L498.88,260.37 L499.74,261.73 L500.55,263.12 L501.32,264.47 L502.07,265.80 L502.81,267.12 L503.56,268.45 L504.32,269.79 L505.07,271.15 L505.82,272.53 L506.55,273.92 L507.26,275.31 L507.97,276.72 L508.67,278.12 L509.37,279.50 L510.07,280.87 L510.78,282.23 L511.48,283.58 L512.20,284.93 L512.93,286.28 L513.67,287.65 L514.41,289.04 L515.16,290.45 L515.92,291.89 L516.69,293.32 L517.45,294.74 L518.22,296.13 L518.98,297.49 L519.74,298.84 L520.49,300.17 L521.25,301.50 L522.01,302.83 L522.79,304.17 L523.58,305.53 L524.39,306.89 L525.20,308.25 L526.03,309.61 L526.89,310.96 L527.75,312.31 L528.61,313.62 L529.46,314.92 L530.30,316.21 L531.14,317.48 L532.00,318.73 L532.88,319.98 L533.79,321.24 L534.72,322.54 L535.63,323.84 L536.49,325.14 L537.33,326.44 L538.19,327.77 L539.06,329.12 L539.94,330.46 L540.84,331.77 L541.74,333.04 L542.66,334.27 L543.59,335.48 L544.53,336.67 L545.46,337.85 L546.41,339.04 L547.36,340.26 L548.32,341.51 L549.29,342.75 L550.26,343.99 L551.24,345.21 L552.24,346.40 L553.26,347.58 L554.30,348.74 L555.35,349.87 L556.42,350.98 L557.50,352.06 L558.62,353.14 L559.77,354.20 L560.94,355.24 L562.11,356.27 L563.27,357.29 L564.41,358.31 L565.54,359.33 L566.67,360.34 L567.81,361.34 L568.98,362.33 L570.20,363.32 L571.44,364.30 L572.71,365.25 L573.98,366.16 L575.26,367.04 L576.55,367.87 L577.84,368.68 L579.14,369.48 L580.43,370.28 L581.73,371.08 L583.02,371.89 L584.31,372.70 L585.59,373.51 L586.87,374.33 L588.14,375.15 L589.42,375.95 L590.72,376.72 L592.07,377.46 L593.44,378.16 L594.83,378.83 L596.23,379.48 L597.61,380.13 L598.99,380.76 L600.38,381.39 L601.80,382.00 L603.26,382.60 L604.75,383.18 L606.27,383.74 L607.79,384.27 L609.30,384.76 L610.80,385.24 L612.31,385.70 L613.82,386.18 L615.34,386.66 L616.86,387.15 L618.38,387.62 L619.89,388.08 L621.40,388.50 L622.88,388.90 L624.35,389.26 L625.80,389.57 L627.26,389.85 L628.74,390.10 L630.20,390.30 L631.58,390.47 L632.93,390.61 L634.34,390.75 L635.87,390.90 L637.49,391.06 L639.13,391.22 L640.69,391.38 L642.15,391.53 L643.59,391.69 L645.07,391.85 L646.61,392.02 L648.19,392.19 L649.80,392.37 L651.40,392.54 L652.99,392.71 L654.55,392.86 L656.08,393.01 L657.61,393.16 L659.17,393.29 L660.78,393.42 L662.39,393.55 L663.98,393.66 L665.54,393.76 L667.05,393.86 L668.52,393.95 L669.95,394.04 L671.39,394.13 L672.94,394.22 L674.62,394.32 L676.36,394.41 L678.00,394.50 L679.37,394.57 L680.35,394.62 L682.00,394.70 L682.00,394.70" fill="none" stroke="#ea8b2a" stroke-width="1.12" stroke-linejoin="round" stroke-linecap="round" />
<rect x="403.5" y="225.0" width="279.0" height="172.5" fill="none" stroke="#2a2a2a" stroke-width="1"/>
<line x1="408.15" y1="397.5" x2="408.15" y2="399.5" stroke="#2a2a2a" stroke-width="1" />
<line x1="431.4" y1="397.5" x2="431.4" y2="401.0" stroke="#2a2a2a" stroke-width="1" />
<text x="430.79999999999995" y="414" font-size="11.5" text-anchor="middle" fill="#222" font-weight="normal" >450</text>
<line x1="454.65" y1="397.5" x2="454.65" y2="399.5" stroke="#2a2a2a" stroke-width="1" />
<line x1="477.9" y1="397.5" x2="477.9" y2="401.0" stroke="#2a2a2a" stroke-width="1" />
<text x="477.29999999999995" y="414" font-size="11.5" text-anchor="middle" fill="#222" font-weight="normal" >500</text>
<line x1="501.15" y1="397.5" x2="501.15" y2="399.5" stroke="#2a2a2a" stroke-width="1" />
<line x1="524.4" y1="397.5" x2="524.4" y2="401.0" stroke="#2a2a2a" stroke-width="1" />
<text x="523.8" y="414" font-size="11.5" text-anchor="middle" fill="#222" font-weight="normal" >550</text>
<line x1="547.65" y1="397.5" x2="547.65" y2="399.5" stroke="#2a2a2a" stroke-width="1" />
<line x1="570.9" y1="397.5" x2="570.9" y2="401.0" stroke="#2a2a2a" stroke-width="1" />
<text x="570.3" y="414" font-size="11.5" text-anchor="middle" fill="#222" font-weight="normal" >600</text>
<line x1="594.15" y1="397.5" x2="594.15" y2="399.5" stroke="#2a2a2a" stroke-width="1" />
<line x1="617.4" y1="397.5" x2="617.4" y2="401.0" stroke="#2a2a2a" stroke-width="1" />
<text x="616.8" y="414" font-size="11.5" text-anchor="middle" fill="#222" font-weight="normal" >650</text>
<line x1="640.65" y1="397.5" x2="640.65" y2="399.5" stroke="#2a2a2a" stroke-width="1" />
<line x1="663.9" y1="397.5" x2="663.9" y2="401.0" stroke="#2a2a2a" stroke-width="1" />
<text x="663.3" y="414" font-size="11.5" text-anchor="middle" fill="#222" font-weight="normal" >700</text>
<line x1="398.5" y1="397.5" x2="403.5" y2="397.5" stroke="#2a2a2a" stroke-width="1" />
<line x1="401.5" y1="386.71875" x2="403.5" y2="386.71875" stroke="#2a2a2a" stroke-width="1" />
<line x1="398.5" y1="375.9375" x2="403.5" y2="375.9375" stroke="#2a2a2a" stroke-width="1" />
<line x1="401.5" y1="365.15625" x2="403.5" y2="365.15625" stroke="#2a2a2a" stroke-width="1" />
<line x1="398.5" y1="354.375" x2="403.5" y2="354.375" stroke="#2a2a2a" stroke-width="1" />
<line x1="401.5" y1="343.59375" x2="403.5" y2="343.59375" stroke="#2a2a2a" stroke-width="1" />
<line x1="398.5" y1="332.8125" x2="403.5" y2="332.8125" stroke="#2a2a2a" stroke-width="1" />
<line x1="401.5" y1="322.03125" x2="403.5" y2="322.03125" stroke="#2a2a2a" stroke-width="1" />
<line x1="398.5" y1="311.25" x2="403.5" y2="311.25" stroke="#2a2a2a" stroke-width="1" />
<line x1="401.5" y1="300.46875" x2="403.5" y2="300.46875" stroke="#2a2a2a" stroke-width="1" />
<line x1="398.5" y1="289.6875" x2="403.5" y2="289.6875" stroke="#2a2a2a" stroke-width="1" />
<line x1="401.5" y1="278.90625" x2="403.5" y2="278.90625" stroke="#2a2a2a" stroke-width="1" />
<line x1="398.5" y1="268.125" x2="403.5" y2="268.125" stroke="#2a2a2a" stroke-width="1" />
<line x1="401.5" y1="257.34375" x2="403.5" y2="257.34375" stroke="#2a2a2a" stroke-width="1" />
<line x1="398.5" y1="246.5625" x2="403.5" y2="246.5625" stroke="#2a2a2a" stroke-width="1" />
<line x1="401.5" y1="235.78125" x2="403.5" y2="235.78125" stroke="#2a2a2a" stroke-width="1" />
<line x1="398.5" y1="225.0" x2="403.5" y2="225.0" stroke="#2a2a2a" stroke-width="1" />
<text x="388" y="311" font-size="11.15" text-anchor="middle" fill="#222" font-weight="normal" transform="rotate(-90 388 311)">Photoluminescence (arb. units)</text>
<text x="495.5" y="428" font-size="11.3" text-anchor="start" fill="#222" font-weight="normal" >Wavelength (nm)</text>
<text x="421.5" y="245.2" font-size="11.3" text-anchor="start" fill="#222" font-weight="normal" >293 K</text>
<text x="371.5" y="228" font-size="14.2" text-anchor="start" fill="#111" font-weight="bold" >d</text>
<line x1="566.3" y1="266.1" x2="591" y2="266.1" stroke="#181818" stroke-width="1.2" />
<text x="602.5" y="269.3" font-size="9.8" text-anchor="start" fill="#222" font-weight="normal" >405 nm</text>
<line x1="566.3" y1="276.25" x2="591" y2="276.25" stroke="#d93030" stroke-width="1.2" />
<text x="602.5" y="279.45" font-size="9.8" text-anchor="start" fill="#222" font-weight="normal" >360 nm</text>
<line x1="566.3" y1="286.40000000000003" x2="591" y2="286.40000000000003" stroke="#268a42" stroke-width="1.2" />
<text x="602.5" y="289.6" font-size="9.8" text-anchor="start" fill="#222" font-weight="normal" >330 nm</text>
<line x1="566.3" y1="296.55" x2="591" y2="296.55" stroke="#34479a" stroke-width="1.2" />
<text x="602.5" y="299.75" font-size="9.8" text-anchor="start" fill="#222" font-weight="normal" >300 nm</text>
<line x1="566.3" y1="306.70000000000005" x2="591" y2="306.70000000000005" stroke="#ea8b2a" stroke-width="1.2" />
<text x="602.5" y="309.90000000000003" font-size="9.8" text-anchor="start" fill="#222" font-weight="normal" >270 nm</text></g></svg>
</body></html>
